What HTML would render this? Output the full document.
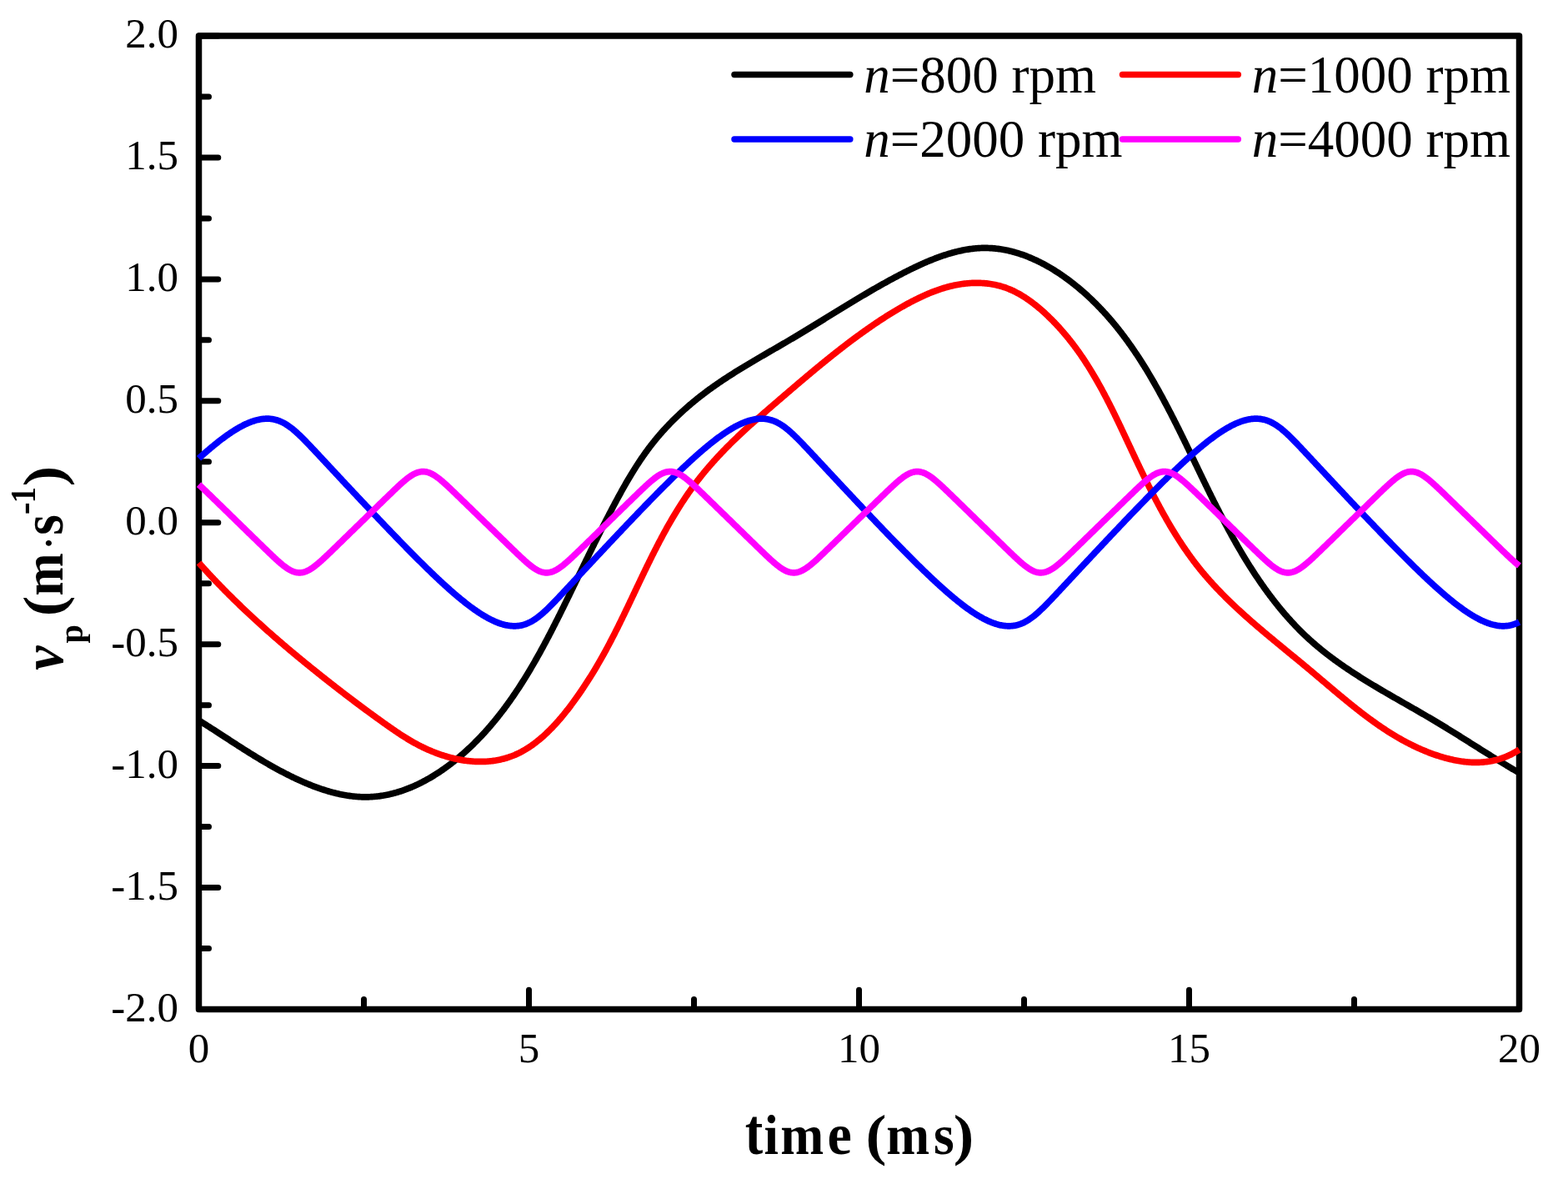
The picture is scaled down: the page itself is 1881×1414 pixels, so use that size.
<!DOCTYPE html>
<html><head><meta charset="utf-8"><title>v_p vs time</title><style>
html,body{margin:0;padding:0;background:#fff;overflow:hidden;}
svg{display:block;}
text{font-family:"Liberation Serif","Times New Roman",serif;fill:#000;}
</style></head><body>
<svg width="1881" height="1414" viewBox="0 0 1881 1414">
<rect width="1881" height="1414" fill="#fff"/>
<g font-size="51">
<text x="214" y="57.2" text-anchor="end">2.0</text>
<text x="214" y="203.1" text-anchor="end">1.5</text>
<text x="214" y="349.1" text-anchor="end">1.0</text>
<text x="214" y="495.0" text-anchor="end">0.5</text>
<text x="214" y="641.0" text-anchor="end">0.0</text>
<text x="214" y="786.9" text-anchor="end">-0.5</text>
<text x="214" y="932.8" text-anchor="end">-1.0</text>
<text x="214" y="1078.8" text-anchor="end">-1.5</text>
<text x="214" y="1224.7" text-anchor="end">-2.0</text>
<text x="238.5" y="1274.4" text-anchor="middle">0</text>
<text x="634.5" y="1274.4" text-anchor="middle">5</text>
<text x="1030.5" y="1274.4" text-anchor="middle">10</text>
<text x="1426.5" y="1274.4" text-anchor="middle">15</text>
<text x="1822.5" y="1274.4" text-anchor="middle">20</text>
</g>
<path d="M238.5,43.00H261.80M238.5,188.94H261.80M238.5,334.88H261.80M238.5,480.81H261.80M238.5,626.75H261.80M238.5,772.69H261.80M238.5,918.62H261.80M238.5,1064.56H261.80M238.5,1210.50H261.80M238.5,115.97H250.50M238.5,261.91H250.50M238.5,407.84H250.50M238.5,553.78H250.50M238.5,699.72H250.50M238.5,845.66H250.50M238.5,991.59H250.50M238.5,1137.53H250.50M238.50,1210.5V1187.20M634.50,1210.5V1187.20M1030.50,1210.5V1187.20M1426.50,1210.5V1187.20M1822.50,1210.5V1187.20M436.50,1210.5V1198.50M832.50,1210.5V1198.50M1228.50,1210.5V1198.50M1624.50,1210.5V1198.50" stroke="#000" stroke-width="7.0" stroke-linecap="round" fill="none"/>
<rect x="238.5" y="43.0" width="1584.0" height="1167.5" fill="none" stroke="#000" stroke-width="7.5" stroke-linejoin="round"/>
<g fill="none" stroke-width="7.7" stroke-linejoin="round" stroke-linecap="butt">
<path d="M238.50,863.93 L244.17,867.51 L245.23,868.17 L246.29,868.83 L247.35,869.50 L248.43,870.18 L249.50,870.87 L250.59,871.56 L251.68,872.25 L252.77,872.95 L253.87,873.66 L254.98,874.37 L256.09,875.08 L257.21,875.81 L258.33,876.53 L259.46,877.26 L260.59,877.99 L261.73,878.73 L262.87,879.48 L264.02,880.22 L265.17,880.97 L266.33,881.73 L267.50,882.48 L268.66,883.24 L269.84,884.01 L271.02,884.78 L272.20,885.55 L273.39,886.32 L274.58,887.09 L275.78,887.87 L276.98,888.65 L278.18,889.43 L279.39,890.22 L280.61,891.00 L281.83,891.79 L283.05,892.58 L284.28,893.37 L285.51,894.17 L286.75,894.96 L287.99,895.75 L289.23,896.55 L290.48,897.34 L291.73,898.14 L292.99,898.94 L294.25,899.74 L295.52,900.53 L296.78,901.33 L298.06,902.13 L299.33,902.93 L300.61,903.72 L301.89,904.52 L303.18,905.31 L304.47,906.11 L305.76,906.90 L307.06,907.69 L308.36,908.48 L309.66,909.27 L310.97,910.06 L312.28,910.85 L313.59,911.63 L314.91,912.41 L316.23,913.19 L317.55,913.97 L318.87,914.74 L320.20,915.51 L321.53,916.28 L322.86,917.05 L324.20,917.81 L325.54,918.57 L326.88,919.33 L328.22,920.08 L329.57,920.83 L330.92,921.58 L332.27,922.32 L333.62,923.06 L334.98,923.79 L336.34,924.52 L337.70,925.24 L339.06,925.96 L340.42,926.68 L341.79,927.39 L343.16,928.09 L344.53,928.79 L345.90,929.48 L347.28,930.17 L348.65,930.85 L350.03,931.53 L351.41,932.20 L352.79,932.86 L354.18,933.52 L355.56,934.17 L356.95,934.82 L358.34,935.46 L359.72,936.09 L361.12,936.71 L362.51,937.33 L363.90,937.94 L365.29,938.54 L366.69,939.13 L368.09,939.72 L369.48,940.30 L370.88,940.87 L372.28,941.43 L373.68,941.99 L375.09,942.53 L376.49,943.07 L377.89,943.60 L379.30,944.12 L380.70,944.63 L382.10,945.13 L383.51,945.62 L384.92,946.10 L386.32,946.57 L387.73,947.03 L389.14,947.49 L390.55,947.93 L391.95,948.36 L393.36,948.78 L394.77,949.19 L396.18,949.59 L397.59,949.98 L399.00,950.36 L400.41,950.73 L401.82,951.08 L403.22,951.43 L404.63,951.76 L406.04,952.08 L407.45,952.39 L408.86,952.69 L410.26,952.97 L411.67,953.24 L413.08,953.50 L414.48,953.75 L415.89,953.98 L417.29,954.21 L418.69,954.41 L420.10,954.61 L421.50,954.79 L422.90,954.96 L424.30,955.11 L425.70,955.26 L427.10,955.38 L428.50,955.50 L429.89,955.59 L431.29,955.68 L432.68,955.75 L434.08,955.80 L435.47,955.84 L436.86,955.87 L438.25,955.88 L439.64,955.87 L441.02,955.85 L442.41,955.82 L443.79,955.77 L445.17,955.70 L446.55,955.62 L447.93,955.52 L449.31,955.41 L450.68,955.28 L452.05,955.14 L453.42,954.99 L454.79,954.82 L456.16,954.63 L457.53,954.43 L458.89,954.22 L460.25,953.99 L461.61,953.75 L462.97,953.50 L464.32,953.23 L465.68,952.95 L467.03,952.65 L468.38,952.34 L469.72,952.02 L471.07,951.68 L472.41,951.34 L473.75,950.97 L475.08,950.60 L476.42,950.21 L477.75,949.81 L479.08,949.40 L480.41,948.98 L481.73,948.54 L483.05,948.09 L484.37,947.63 L485.69,947.16 L487.00,946.68 L488.31,946.18 L489.62,945.68 L490.93,945.16 L492.23,944.63 L493.53,944.09 L494.83,943.53 L496.12,942.97 L497.41,942.40 L498.70,941.81 L499.98,941.22 L501.26,940.61 L502.54,940.00 L503.82,939.37 L505.09,938.73 L506.35,938.09 L507.62,937.43 L508.88,936.76 L510.14,936.09 L511.39,935.40 L512.65,934.71 L513.89,934.00 L515.14,933.29 L516.38,932.57 L517.62,931.83 L518.85,931.09 L520.08,930.34 L521.31,929.58 L522.53,928.82 L523.75,928.04 L524.96,927.26 L526.17,926.47 L527.38,925.67 L528.58,924.86 L529.78,924.04 L530.98,923.22 L532.17,922.39 L533.35,921.55 L534.54,920.70 L535.72,919.85 L536.89,918.99 L538.06,918.12 L539.23,917.24 L540.39,916.36 L541.55,915.47 L542.70,914.58 L543.85,913.67 L544.99,912.76 L546.13,911.85 L547.27,910.93 L548.40,910.00 L549.52,909.07 L550.64,908.13 L551.76,907.18 L552.87,906.23 L553.98,905.28 L555.08,904.32 L556.18,903.35 L557.27,902.38 L558.36,901.40 L559.44,900.42 L560.52,899.43 L561.59,898.44 L562.66,897.45 L563.72,896.45 L564.78,895.44 L565.84,894.43 L566.88,893.42 L567.93,892.40 L568.96,891.38 L570.00,890.35 L571.02,889.32 L572.05,888.29 L573.07,887.25 L574.08,886.20 L575.09,885.16 L576.09,884.11 L577.09,883.05 L578.09,881.99 L579.08,880.93 L580.06,879.86 L581.05,878.79 L582.02,877.71 L582.99,876.63 L583.96,875.55 L584.92,874.46 L585.88,873.37 L586.84,872.28 L587.79,871.18 L588.73,870.07 L589.67,868.97 L590.61,867.86 L591.54,866.75 L592.47,865.63 L593.40,864.51 L594.32,863.39 L595.23,862.26 L596.15,861.13 L597.05,860.00 L597.96,858.86 L598.86,857.72 L599.75,856.57 L600.65,855.43 L601.53,854.28 L602.42,853.12 L603.30,851.96 L604.18,850.80 L605.05,849.64 L605.92,848.48 L606.78,847.31 L607.64,846.13 L608.50,844.96 L609.36,843.78 L610.21,842.60 L611.06,841.41 L611.90,840.23 L612.74,839.04 L613.58,837.84 L614.41,836.65 L615.24,835.45 L616.06,834.25 L616.89,833.05 L617.71,831.84 L618.52,830.63 L619.34,829.42 L620.15,828.21 L620.95,826.99 L621.76,825.77 L622.56,824.55 L623.35,823.32 L624.15,822.10 L624.94,820.87 L625.73,819.64 L626.51,818.40 L627.29,817.17 L628.07,815.93 L628.85,814.69 L629.62,813.45 L630.39,812.20 L631.16,810.96 L631.93,809.71 L632.69,808.46 L633.45,807.20 L634.20,805.95 L634.96,804.69 L635.71,803.43 L636.46,802.17 L637.20,800.91 L637.95,799.65 L638.69,798.38 L639.43,797.11 L640.16,795.84 L640.90,794.57 L641.63,793.30 L642.36,792.02 L643.08,790.75 L643.81,789.47 L644.53,788.19 L645.25,786.91 L645.97,785.63 L646.68,784.34 L647.40,783.06 L648.11,781.77 L648.82,780.48 L649.52,779.19 L650.23,777.90 L650.93,776.61 L651.63,775.32 L652.33,774.02 L653.03,772.72 L653.72,771.43 L654.41,770.13 L655.11,768.83 L655.80,767.53 L656.48,766.23 L657.17,764.93 L657.85,763.62 L658.54,762.32 L659.22,761.02 L659.90,759.71 L660.57,758.40 L661.25,757.10 L661.93,755.79 L662.60,754.48 L663.27,753.17 L663.94,751.86 L664.61,750.55 L665.28,749.24 L665.94,747.92 L666.61,746.61 L667.27,745.30 L667.94,743.98 L668.60,742.67 L669.26,741.35 L669.92,740.04 L670.57,738.72 L671.23,737.41 L671.88,736.09 L672.54,734.78 L673.19,733.46 L673.85,732.14 L674.50,730.83 L675.15,729.51 L675.80,728.19 L676.45,726.87 L677.09,725.56 L677.74,724.24 L678.39,722.92 L679.03,721.60 L679.68,720.29 L680.32,718.97 L680.97,717.65 L681.61,716.34 L682.25,715.02 L682.89,713.70 L683.53,712.39 L684.18,711.07 L684.82,709.76 L685.46,708.44 L686.09,707.13 L686.73,705.81 L687.37,704.50 L688.01,703.18 L688.65,701.87 L689.29,700.56 L689.92,699.24 L690.56,697.93 L691.20,696.62 L691.84,695.31 L692.47,693.99 L693.11,692.68 L693.74,691.37 L694.38,690.06 L695.02,688.75 L695.65,687.44 L696.29,686.13 L696.93,684.82 L697.56,683.51 L698.20,682.20 L698.83,680.89 L699.47,679.58 L700.11,678.28 L700.74,676.97 L701.38,675.66 L702.02,674.35 L702.66,673.05 L703.29,671.74 L703.93,670.43 L704.57,669.13 L705.21,667.82 L705.85,666.51 L706.49,665.21 L707.12,663.90 L707.76,662.60 L708.41,661.29 L709.05,659.99 L709.69,658.69 L710.33,657.38 L710.97,656.08 L711.62,654.78 L712.26,653.47 L712.90,652.17 L713.55,650.87 L714.19,649.57 L714.84,648.27 L715.49,646.96 L716.14,645.66 L716.79,644.36 L717.43,643.06 L718.09,641.76 L718.74,640.46 L719.39,639.16 L720.04,637.86 L720.70,636.56 L721.35,635.26 L722.01,633.97 L722.66,632.67 L723.32,631.37 L723.98,630.07 L724.64,628.77 L725.30,627.48 L725.96,626.18 L726.63,624.88 L727.29,623.59 L727.96,622.29 L728.63,620.99 L729.29,619.70 L729.96,618.40 L730.64,617.11 L731.31,615.81 L731.98,614.52 L732.66,613.22 L733.33,611.93 L734.01,610.63 L734.69,609.34 L735.37,608.05 L736.05,606.75 L736.74,605.46 L737.42,604.17 L738.11,602.88 L738.80,601.59 L739.49,600.29 L740.19,599.00 L740.88,597.72 L741.58,596.43 L742.28,595.14 L742.98,593.85 L743.68,592.57 L744.39,591.28 L745.10,590.00 L745.81,588.72 L746.52,587.44 L747.24,586.16 L747.96,584.88 L748.68,583.60 L749.40,582.33 L750.13,581.05 L750.86,579.78 L751.59,578.51 L752.33,577.25 L753.07,575.98 L753.81,574.72 L754.56,573.46 L755.31,572.20 L756.06,570.94 L756.81,569.68 L757.57,568.43 L758.34,567.18 L759.10,565.93 L759.87,564.69 L760.65,563.45 L761.43,562.21 L762.21,560.97 L763.00,559.74 L763.79,558.51 L764.58,557.28 L765.38,556.05 L766.18,554.83 L766.99,553.61 L767.80,552.40 L768.62,551.19 L769.44,549.98 L770.27,548.77 L771.10,547.57 L771.93,546.37 L772.77,545.18 L773.61,543.99 L774.46,542.80 L775.32,541.62 L776.18,540.44 L777.04,539.27 L777.91,538.10 L778.79,536.93 L779.67,535.77 L780.56,534.61 L781.45,533.46 L782.35,532.31 L783.25,531.17 L784.16,530.03 L785.07,528.90 L785.99,527.77 L786.92,526.64 L787.85,525.52 L788.78,524.40 L789.72,523.29 L790.67,522.18 L791.62,521.08 L792.58,519.98 L793.54,518.88 L794.50,517.79 L795.48,516.71 L796.45,515.63 L797.44,514.55 L798.42,513.48 L799.41,512.41 L800.41,511.35 L801.41,510.29 L802.42,509.24 L803.43,508.19 L804.44,507.14 L805.46,506.10 L806.49,505.06 L807.52,504.03 L808.55,503.01 L809.59,501.98 L810.63,500.96 L811.68,499.95 L812.73,498.94 L813.79,497.93 L814.85,496.93 L815.92,495.94 L816.98,494.95 L818.06,493.96 L819.14,492.98 L820.22,492.00 L821.30,491.02 L822.39,490.05 L823.49,489.09 L824.58,488.13 L825.69,487.17 L826.79,486.22 L827.90,485.27 L829.01,484.33 L830.13,483.39 L831.25,482.45 L832.38,481.52 L833.50,480.60 L834.64,479.67 L835.77,478.76 L836.91,477.84 L838.05,476.93 L839.20,476.03 L840.35,475.13 L841.50,474.24 L842.66,473.34 L843.81,472.46 L844.98,471.58 L846.14,470.70 L847.31,469.82 L848.48,468.96 L849.66,468.09 L850.84,467.23 L852.02,466.37 L853.20,465.52 L854.39,464.67 L855.58,463.82 L856.77,462.98 L857.97,462.15 L859.17,461.31 L860.37,460.48 L861.57,459.65 L862.77,458.83 L863.98,458.01 L865.19,457.19 L866.41,456.38 L867.62,455.57 L868.84,454.76 L870.06,453.96 L871.28,453.16 L872.50,452.36 L873.73,451.57 L874.96,450.78 L876.19,449.99 L877.42,449.20 L878.65,448.42 L879.89,447.64 L881.12,446.86 L882.36,446.08 L883.60,445.31 L884.84,444.54 L886.09,443.77 L887.33,443.00 L888.58,442.23 L889.82,441.47 L891.07,440.71 L892.32,439.95 L893.57,439.20 L894.82,438.44 L896.08,437.69 L897.33,436.94 L898.59,436.19 L899.84,435.44 L901.10,434.69 L902.36,433.95 L903.61,433.20 L904.87,432.46 L906.13,431.72 L907.39,430.98 L908.65,430.24 L909.91,429.50 L911.18,428.76 L912.44,428.03 L913.70,427.29 L914.96,426.56 L916.23,425.82 L917.49,425.09 L918.75,424.36 L920.02,423.63 L921.28,422.90 L922.54,422.17 L923.80,421.44 L925.07,420.71 L926.33,419.98 L927.59,419.25 L928.86,418.52 L930.12,417.79 L931.38,417.06 L932.64,416.33 L933.90,415.60 L935.16,414.87 L936.42,414.14 L937.68,413.41 L938.93,412.68 L940.19,411.95 L941.45,411.21 L942.70,410.48 L943.96,409.75 L945.21,409.02 L946.46,408.28 L947.71,407.55 L948.96,406.81 L950.21,406.07 L951.46,405.33 L952.71,404.59 L953.95,403.85 L955.20,403.11 L956.44,402.37 L957.68,401.63 L958.92,400.88 L960.16,400.14 L961.40,399.39 L962.64,398.65 L963.87,397.90 L965.11,397.15 L966.34,396.40 L967.58,395.66 L968.81,394.91 L970.04,394.15 L971.28,393.40 L972.51,392.65 L973.74,391.90 L974.97,391.15 L976.20,390.39 L977.43,389.64 L978.66,388.89 L979.88,388.13 L981.11,387.38 L982.34,386.62 L983.57,385.87 L984.79,385.11 L986.02,384.36 L987.25,383.60 L988.47,382.85 L989.70,382.09 L990.93,381.33 L992.15,380.58 L993.38,379.82 L994.61,379.07 L995.83,378.31 L997.06,377.55 L998.28,376.80 L999.51,376.04 L1000.74,375.28 L1001.97,374.53 L1003.19,373.77 L1004.42,373.02 L1005.65,372.26 L1006.88,371.51 L1008.11,370.75 L1009.34,370.00 L1010.57,369.25 L1011.80,368.49 L1013.03,367.74 L1014.26,366.99 L1015.49,366.24 L1016.73,365.48 L1017.96,364.73 L1019.20,363.98 L1020.43,363.23 L1021.67,362.48 L1022.91,361.74 L1024.14,360.99 L1025.38,360.24 L1026.62,359.49 L1027.87,358.75 L1029.11,358.00 L1030.35,357.26 L1031.60,356.52 L1032.84,355.78 L1034.09,355.03 L1035.34,354.29 L1036.59,353.56 L1037.84,352.82 L1039.09,352.08 L1040.35,351.34 L1041.60,350.61 L1042.86,349.88 L1044.12,349.14 L1045.38,348.41 L1046.64,347.68 L1047.90,346.95 L1049.17,346.23 L1050.43,345.50 L1051.70,344.77 L1052.97,344.05 L1054.25,343.33 L1055.52,342.61 L1056.80,341.89 L1058.07,341.17 L1059.35,340.46 L1060.64,339.74 L1061.92,339.03 L1063.21,338.32 L1064.49,337.61 L1065.78,336.90 L1067.08,336.19 L1068.37,335.49 L1069.67,334.78 L1070.97,334.08 L1072.27,333.38 L1073.58,332.69 L1074.88,331.99 L1076.19,331.30 L1077.50,330.61 L1078.82,329.92 L1080.14,329.23 L1081.46,328.54 L1082.78,327.86 L1084.10,327.18 L1085.43,326.50 L1086.76,325.83 L1088.09,325.15 L1089.43,324.49 L1090.76,323.82 L1092.10,323.16 L1093.44,322.50 L1094.78,321.85 L1096.13,321.20 L1097.48,320.56 L1098.83,319.92 L1100.18,319.28 L1101.53,318.65 L1102.89,318.03 L1104.24,317.41 L1105.60,316.79 L1106.96,316.18 L1108.33,315.58 L1109.69,314.99 L1111.05,314.40 L1112.42,313.82 L1113.79,313.24 L1115.16,312.67 L1116.53,312.11 L1117.91,311.56 L1119.28,311.01 L1120.66,310.47 L1122.03,309.94 L1123.41,309.42 L1124.79,308.90 L1126.17,308.40 L1127.56,307.90 L1128.94,307.41 L1130.32,306.93 L1131.71,306.46 L1133.09,306.00 L1134.48,305.55 L1135.87,305.11 L1137.26,304.68 L1138.65,304.26 L1140.04,303.85 L1141.43,303.45 L1142.82,303.06 L1144.21,302.69 L1145.61,302.32 L1147.00,301.97 L1148.39,301.62 L1149.79,301.29 L1151.18,300.98 L1152.58,300.67 L1153.97,300.37 L1155.37,300.09 L1156.77,299.82 L1158.16,299.57 L1159.56,299.33 L1160.96,299.10 L1162.35,298.88 L1163.75,298.68 L1165.15,298.49 L1166.54,298.32 L1167.94,298.16 L1169.33,298.01 L1170.73,297.88 L1172.13,297.77 L1173.52,297.67 L1174.92,297.58 L1176.31,297.52 L1177.71,297.46 L1179.10,297.43 L1180.50,297.40 L1181.89,297.40 L1183.28,297.41 L1184.67,297.44 L1186.07,297.48 L1187.46,297.54 L1188.85,297.62 L1190.23,297.71 L1191.62,297.82 L1193.01,297.94 L1194.40,298.08 L1195.78,298.23 L1197.17,298.40 L1198.55,298.59 L1199.93,298.79 L1201.31,299.00 L1202.69,299.23 L1204.07,299.47 L1205.45,299.73 L1206.82,300.00 L1208.19,300.29 L1209.57,300.59 L1210.94,300.91 L1212.31,301.23 L1213.67,301.58 L1215.04,301.93 L1216.40,302.30 L1217.77,302.69 L1219.13,303.08 L1220.48,303.49 L1221.84,303.91 L1223.19,304.35 L1224.54,304.80 L1225.89,305.26 L1227.24,305.73 L1228.59,306.22 L1229.93,306.71 L1231.27,307.22 L1232.61,307.75 L1233.94,308.28 L1235.28,308.83 L1236.61,309.38 L1237.94,309.95 L1239.26,310.53 L1240.58,311.13 L1241.90,311.73 L1243.22,312.34 L1244.53,312.97 L1245.85,313.61 L1247.15,314.25 L1248.46,314.91 L1249.76,315.58 L1251.06,316.25 L1252.35,316.94 L1253.65,317.64 L1254.94,318.35 L1256.22,319.07 L1257.50,319.80 L1258.78,320.53 L1260.06,321.28 L1261.33,322.04 L1262.60,322.80 L1263.86,323.58 L1265.12,324.36 L1266.38,325.15 L1267.63,325.95 L1268.88,326.76 L1270.13,327.58 L1271.37,328.41 L1272.61,329.24 L1273.84,330.09 L1275.07,330.94 L1276.30,331.80 L1277.52,332.66 L1278.73,333.54 L1279.95,334.42 L1281.15,335.31 L1282.36,336.21 L1283.56,337.11 L1284.75,338.02 L1285.94,338.94 L1287.13,339.86 L1288.31,340.79 L1289.48,341.73 L1290.66,342.68 L1291.82,343.63 L1292.98,344.58 L1294.14,345.54 L1295.29,346.51 L1296.44,347.49 L1297.58,348.47 L1298.71,349.45 L1299.85,350.44 L1300.97,351.44 L1302.09,352.44 L1303.21,353.45 L1304.32,354.46 L1305.42,355.48 L1306.52,356.50 L1307.61,357.52 L1308.70,358.55 L1309.78,359.59 L1310.86,360.63 L1311.93,361.67 L1312.99,362.72 L1314.05,363.77 L1315.11,364.82 L1316.16,365.88 L1317.20,366.95 L1318.24,368.01 L1319.27,369.08 L1320.30,370.16 L1321.32,371.24 L1322.33,372.32 L1323.34,373.41 L1324.35,374.50 L1325.35,375.60 L1326.35,376.69 L1327.34,377.80 L1328.32,378.90 L1329.30,380.01 L1330.28,381.13 L1331.25,382.24 L1332.22,383.36 L1333.18,384.49 L1334.13,385.61 L1335.08,386.74 L1336.03,387.88 L1336.97,389.02 L1337.91,390.16 L1338.84,391.30 L1339.77,392.45 L1340.69,393.60 L1341.61,394.75 L1342.53,395.91 L1343.44,397.07 L1344.34,398.23 L1345.24,399.40 L1346.14,400.57 L1347.03,401.74 L1347.92,402.91 L1348.80,404.09 L1349.68,405.27 L1350.56,406.45 L1351.43,407.64 L1352.30,408.83 L1353.16,410.02 L1354.02,411.22 L1354.87,412.41 L1355.72,413.61 L1356.57,414.82 L1357.41,416.02 L1358.25,417.23 L1359.09,418.44 L1359.92,419.65 L1360.75,420.86 L1361.57,422.08 L1362.39,423.30 L1363.21,424.52 L1364.02,425.75 L1364.83,426.97 L1365.64,428.20 L1366.44,429.43 L1367.24,430.66 L1368.04,431.90 L1368.83,433.14 L1369.62,434.38 L1370.41,435.62 L1371.19,436.86 L1371.97,438.10 L1372.74,439.35 L1373.52,440.60 L1374.29,441.85 L1375.05,443.10 L1375.82,444.35 L1376.58,445.61 L1377.34,446.87 L1378.09,448.13 L1378.84,449.39 L1379.59,450.65 L1380.34,451.91 L1381.08,453.18 L1381.82,454.44 L1382.56,455.71 L1383.29,456.98 L1384.03,458.25 L1384.76,459.52 L1385.48,460.80 L1386.21,462.07 L1386.93,463.35 L1387.65,464.62 L1388.37,465.90 L1389.08,467.18 L1389.79,468.46 L1390.50,469.74 L1391.21,471.02 L1391.92,472.31 L1392.62,473.59 L1393.32,474.87 L1394.02,476.16 L1394.72,477.45 L1395.41,478.74 L1396.10,480.02 L1396.80,481.31 L1397.48,482.60 L1398.17,483.89 L1398.86,485.19 L1399.54,486.48 L1400.22,487.77 L1400.90,489.07 L1401.58,490.36 L1402.25,491.66 L1402.93,492.95 L1403.60,494.25 L1404.27,495.55 L1404.94,496.85 L1405.61,498.15 L1406.27,499.45 L1406.94,500.75 L1407.60,502.05 L1408.26,503.35 L1408.92,504.65 L1409.58,505.96 L1410.24,507.26 L1410.89,508.56 L1411.55,509.87 L1412.20,511.17 L1412.85,512.48 L1413.51,513.79 L1414.16,515.09 L1414.80,516.40 L1415.45,517.71 L1416.10,519.01 L1416.75,520.32 L1417.39,521.63 L1418.03,522.94 L1418.68,524.25 L1419.32,525.56 L1419.96,526.87 L1420.60,528.18 L1421.24,529.49 L1421.88,530.80 L1422.52,532.11 L1423.16,533.43 L1423.80,534.74 L1424.43,536.05 L1425.07,537.36 L1425.71,538.68 L1426.34,539.99 L1426.98,541.30 L1427.61,542.61 L1428.25,543.93 L1428.88,545.24 L1429.51,546.56 L1430.15,547.87 L1430.78,549.18 L1431.41,550.50 L1432.05,551.81 L1432.68,553.12 L1433.31,554.44 L1433.94,555.75 L1434.58,557.07 L1435.21,558.38 L1435.84,559.69 L1436.47,561.01 L1437.11,562.32 L1437.74,563.64 L1438.37,564.95 L1439.01,566.26 L1439.64,567.58 L1440.27,568.89 L1440.91,570.20 L1441.54,571.52 L1442.18,572.83 L1442.81,574.14 L1443.45,575.46 L1444.09,576.77 L1444.72,578.08 L1445.36,579.39 L1446.00,580.70 L1446.64,582.01 L1447.28,583.33 L1447.92,584.64 L1448.56,585.95 L1449.20,587.26 L1449.84,588.57 L1450.49,589.88 L1451.13,591.19 L1451.78,592.49 L1452.42,593.80 L1453.07,595.11 L1453.72,596.42 L1454.37,597.72 L1455.02,599.03 L1455.67,600.34 L1456.32,601.64 L1456.98,602.95 L1457.63,604.25 L1458.29,605.55 L1458.95,606.86 L1459.61,608.16 L1460.27,609.46 L1460.93,610.76 L1461.59,612.06 L1462.26,613.37 L1462.92,614.66 L1463.59,615.96 L1464.26,617.26 L1464.93,618.56 L1465.60,619.86 L1466.28,621.15 L1466.96,622.45 L1467.63,623.74 L1468.31,625.04 L1468.99,626.33 L1469.68,627.62 L1470.36,628.91 L1471.05,630.20 L1471.74,631.49 L1472.43,632.78 L1473.12,634.07 L1473.82,635.36 L1474.52,636.64 L1475.22,637.93 L1475.92,639.21 L1476.62,640.50 L1477.33,641.78 L1478.04,643.06 L1478.75,644.34 L1479.46,645.62 L1480.17,646.90 L1480.89,648.18 L1481.61,649.46 L1482.33,650.73 L1483.06,652.01 L1483.79,653.28 L1484.52,654.55 L1485.25,655.82 L1485.99,657.09 L1486.72,658.36 L1487.47,659.63 L1488.21,660.89 L1488.95,662.16 L1489.70,663.42 L1490.45,664.68 L1491.21,665.94 L1491.97,667.20 L1492.72,668.46 L1493.49,669.71 L1494.25,670.97 L1495.02,672.22 L1495.79,673.47 L1496.56,674.72 L1497.34,675.96 L1498.12,677.21 L1498.90,678.45 L1499.68,679.69 L1500.47,680.93 L1501.26,682.17 L1502.06,683.40 L1502.85,684.63 L1503.65,685.86 L1504.45,687.09 L1505.26,688.32 L1506.07,689.54 L1506.88,690.76 L1507.69,691.98 L1508.51,693.20 L1509.33,694.41 L1510.15,695.62 L1510.98,696.83 L1511.81,698.04 L1512.64,699.24 L1513.47,700.44 L1514.31,701.64 L1515.16,702.83 L1516.00,704.03 L1516.85,705.22 L1517.70,706.40 L1518.55,707.59 L1519.41,708.77 L1520.27,709.95 L1521.14,711.12 L1522.01,712.30 L1522.88,713.46 L1523.75,714.63 L1524.63,715.79 L1525.51,716.95 L1526.39,718.11 L1527.28,719.26 L1528.17,720.41 L1529.07,721.56 L1529.97,722.70 L1530.87,723.84 L1531.77,724.98 L1532.68,726.11 L1533.59,727.24 L1534.51,728.36 L1535.43,729.48 L1536.35,730.60 L1537.27,731.71 L1538.20,732.82 L1539.14,733.93 L1540.07,735.03 L1541.01,736.13 L1541.96,737.23 L1542.90,738.32 L1543.86,739.40 L1544.81,740.48 L1545.77,741.56 L1546.73,742.64 L1547.70,743.71 L1548.67,744.77 L1549.64,745.83 L1550.62,746.89 L1551.60,747.94 L1552.58,748.99 L1553.57,750.03 L1554.56,751.07 L1555.56,752.11 L1556.56,753.14 L1557.56,754.16 L1558.57,755.19 L1559.58,756.20 L1560.60,757.21 L1561.62,758.22 L1562.64,759.22 L1563.67,760.22 L1564.70,761.21 L1565.73,762.20 L1566.77,763.18 L1567.82,764.16 L1568.86,765.13 L1569.92,766.10 L1570.97,767.06 L1572.03,768.02 L1573.09,768.97 L1574.16,769.91 L1575.23,770.86 L1576.31,771.79 L1577.39,772.73 L1578.47,773.65 L1579.56,774.58 L1580.65,775.50 L1581.74,776.41 L1582.84,777.32 L1583.94,778.22 L1585.04,779.12 L1586.15,780.02 L1587.26,780.91 L1588.38,781.80 L1589.50,782.68 L1590.62,783.56 L1591.74,784.44 L1592.87,785.31 L1594.00,786.18 L1595.14,787.04 L1596.28,787.90 L1597.42,788.75 L1598.56,789.61 L1599.71,790.45 L1600.86,791.30 L1602.01,792.14 L1603.17,792.98 L1604.32,793.81 L1605.49,794.64 L1606.65,795.47 L1607.82,796.29 L1608.99,797.11 L1610.16,797.93 L1611.33,798.74 L1612.51,799.55 L1613.69,800.36 L1614.87,801.16 L1616.06,801.97 L1617.25,802.76 L1618.44,803.56 L1619.63,804.35 L1620.82,805.14 L1622.02,805.93 L1623.22,806.72 L1624.42,807.50 L1625.62,808.28 L1626.83,809.06 L1628.04,809.83 L1629.24,810.60 L1630.46,811.37 L1631.67,812.14 L1632.89,812.91 L1634.10,813.67 L1635.32,814.43 L1636.54,815.19 L1637.76,815.95 L1638.99,816.70 L1640.22,817.46 L1641.44,818.21 L1642.67,818.96 L1643.90,819.70 L1645.13,820.45 L1646.37,821.20 L1647.60,821.94 L1648.84,822.68 L1650.08,823.42 L1651.32,824.16 L1652.56,824.90 L1653.80,825.63 L1655.04,826.37 L1656.29,827.10 L1657.53,827.83 L1658.78,828.56 L1660.03,829.29 L1661.27,830.02 L1662.52,830.75 L1663.77,831.48 L1665.03,832.20 L1666.28,832.93 L1667.53,833.65 L1668.78,834.38 L1670.04,835.10 L1671.29,835.82 L1672.55,836.55 L1673.80,837.27 L1675.06,837.99 L1676.32,838.71 L1677.58,839.43 L1678.83,840.15 L1680.09,840.87 L1681.35,841.59 L1682.61,842.31 L1683.87,843.03 L1685.13,843.75 L1686.39,844.47 L1687.65,845.19 L1688.91,845.91 L1690.17,846.63 L1691.43,847.35 L1692.69,848.08 L1693.95,848.80 L1695.21,849.52 L1696.47,850.24 L1697.73,850.96 L1698.99,851.69 L1700.25,852.41 L1701.51,853.14 L1702.77,853.86 L1704.03,854.59 L1705.29,855.32 L1706.55,856.04 L1707.81,856.77 L1709.06,857.50 L1710.32,858.24 L1711.58,858.97 L1712.83,859.70 L1714.09,860.44 L1715.34,861.17 L1716.59,861.91 L1717.85,862.65 L1719.10,863.39 L1720.35,864.13 L1721.60,864.87 L1722.85,865.62 L1724.09,866.37 L1725.34,867.11 L1726.59,867.86 L1727.83,868.61 L1729.08,869.37 L1730.32,870.12 L1731.56,870.88 L1732.80,871.63 L1734.05,872.39 L1735.29,873.15 L1736.53,873.91 L1737.76,874.68 L1739.00,875.44 L1740.24,876.20 L1741.48,876.97 L1742.71,877.74 L1743.95,878.50 L1745.19,879.27 L1746.42,880.04 L1747.66,880.81 L1748.89,881.58 L1750.12,882.35 L1751.36,883.13 L1752.59,883.90 L1753.82,884.67 L1755.06,885.45 L1756.29,886.22 L1757.52,887.00 L1758.75,887.77 L1759.99,888.55 L1761.22,889.32 L1762.45,890.10 L1763.68,890.88 L1764.92,891.65 L1766.15,892.43 L1767.38,893.21 L1768.61,893.98 L1769.84,894.76 L1771.08,895.54 L1772.31,896.31 L1773.54,897.09 L1774.78,897.86 L1776.01,898.64 L1777.25,899.42 L1778.48,900.19 L1779.72,900.97 L1780.95,901.74 L1782.19,902.51 L1783.42,903.29 L1784.66,904.06 L1785.90,904.83 L1787.14,905.60 L1788.37,906.38 L1789.61,907.15 L1790.85,907.91 L1792.09,908.68 L1793.34,909.45 L1794.58,910.22 L1795.82,910.98 L1797.07,911.75 L1798.31,912.51 L1799.56,913.27 L1800.80,914.03 L1802.05,914.79 L1803.30,915.55 L1804.55,916.31 L1805.80,917.06 L1807.05,917.82 L1808.31,918.57 L1809.56,919.32 L1810.82,920.07 L1812.07,920.82 L1813.33,921.57 L1814.59,922.31 L1815.85,923.05 L1817.11,923.80 L1818.38,924.53 L1822.50,926.97" stroke="#000"/>
<path d="M238.50,674.94 L239.49,676.06 L240.49,677.18 L241.50,678.30 L242.51,679.42 L243.52,680.54 L244.53,681.65 L245.54,682.76 L246.56,683.87 L247.57,684.97 L248.59,686.08 L249.61,687.18 L250.63,688.28 L251.65,689.37 L252.67,690.47 L253.70,691.56 L254.72,692.65 L255.75,693.73 L256.77,694.82 L257.80,695.90 L258.83,696.98 L259.87,698.06 L260.90,699.14 L261.93,700.21 L262.97,701.28 L264.00,702.35 L265.04,703.42 L266.08,704.49 L267.12,705.55 L268.16,706.61 L269.21,707.67 L270.25,708.73 L271.30,709.78 L272.34,710.84 L273.39,711.89 L274.44,712.94 L275.49,713.98 L276.54,715.03 L277.60,716.07 L278.65,717.11 L279.70,718.15 L280.76,719.19 L281.82,720.22 L282.88,721.26 L283.94,722.29 L285.00,723.32 L286.06,724.34 L287.12,725.37 L288.19,726.39 L289.25,727.42 L290.32,728.44 L291.39,729.45 L292.46,730.47 L293.53,731.48 L294.60,732.50 L295.67,733.51 L296.74,734.52 L297.82,735.53 L298.90,736.53 L299.97,737.54 L301.05,738.54 L302.13,739.54 L303.21,740.54 L304.29,741.53 L305.37,742.53 L306.45,743.52 L307.54,744.52 L308.62,745.51 L309.71,746.50 L310.80,747.48 L311.89,748.47 L312.97,749.45 L314.07,750.44 L315.16,751.42 L316.25,752.40 L317.34,753.38 L318.44,754.35 L319.53,755.33 L320.63,756.30 L321.72,757.27 L322.82,758.25 L323.92,759.21 L325.02,760.18 L326.12,761.15 L327.22,762.11 L328.33,763.08 L329.43,764.04 L330.54,765.00 L331.64,765.96 L332.75,766.92 L333.85,767.88 L334.96,768.83 L336.07,769.78 L337.18,770.74 L338.29,771.69 L339.40,772.64 L340.52,773.59 L341.63,774.54 L342.74,775.48 L343.86,776.43 L344.98,777.37 L346.09,778.32 L347.21,779.26 L348.33,780.20 L349.45,781.14 L350.57,782.08 L351.69,783.01 L352.81,783.95 L353.93,784.88 L355.06,785.82 L356.18,786.75 L357.31,787.68 L358.43,788.61 L359.56,789.54 L360.68,790.47 L361.81,791.40 L362.94,792.32 L364.07,793.25 L365.20,794.17 L366.33,795.10 L367.46,796.02 L368.59,796.94 L369.73,797.86 L370.86,798.78 L372.00,799.70 L373.13,800.62 L374.27,801.53 L375.40,802.45 L376.54,803.36 L377.68,804.28 L378.82,805.19 L379.95,806.10 L381.09,807.02 L382.23,807.93 L383.38,808.84 L384.52,809.75 L385.66,810.65 L386.80,811.56 L387.95,812.47 L389.09,813.38 L390.24,814.28 L391.38,815.19 L392.53,816.09 L393.67,816.99 L394.82,817.89 L395.97,818.79 L397.12,819.69 L398.27,820.59 L399.42,821.49 L400.57,822.39 L401.72,823.29 L402.88,824.18 L404.03,825.08 L405.18,825.97 L406.34,826.87 L407.50,827.76 L408.65,828.65 L409.81,829.54 L410.97,830.43 L412.13,831.32 L413.29,832.21 L414.45,833.10 L415.61,833.98 L416.77,834.87 L417.93,835.75 L419.10,836.64 L420.26,837.52 L421.42,838.40 L422.59,839.28 L423.76,840.17 L424.93,841.04 L426.09,841.92 L427.26,842.80 L428.43,843.68 L429.60,844.55 L430.78,845.43 L431.95,846.30 L433.12,847.18 L434.30,848.05 L435.47,848.92 L436.65,849.79 L437.82,850.66 L439.00,851.53 L440.18,852.40 L441.36,853.27 L442.54,854.13 L443.72,855.00 L444.91,855.86 L446.09,856.72 L447.27,857.59 L448.46,858.45 L449.64,859.31 L450.83,860.17 L452.02,861.03 L453.21,861.88 L454.40,862.74 L455.59,863.60 L456.78,864.45 L457.97,865.31 L459.17,866.16 L460.36,867.01 L461.56,867.86 L462.75,868.71 L463.95,869.56 L465.15,870.41 L466.35,871.25 L467.55,872.10 L468.76,872.94 L469.96,873.77 L471.17,874.61 L472.38,875.44 L473.59,876.27 L474.81,877.09 L476.02,877.91 L477.24,878.73 L478.47,879.54 L479.69,880.35 L480.92,881.15 L482.15,881.95 L483.39,882.74 L484.63,883.53 L485.87,884.31 L487.12,885.08 L488.37,885.85 L489.62,886.61 L490.88,887.37 L492.14,888.11 L493.41,888.85 L494.68,889.58 L495.96,890.31 L497.24,891.02 L498.53,891.73 L499.82,892.43 L501.11,893.12 L502.42,893.80 L503.72,894.47 L505.03,895.13 L506.35,895.78 L507.67,896.42 L509.00,897.06 L510.33,897.68 L511.67,898.29 L513.00,898.90 L514.35,899.49 L515.69,900.07 L517.05,900.64 L518.40,901.20 L519.76,901.75 L521.12,902.29 L522.49,902.82 L523.85,903.34 L525.23,903.84 L526.60,904.34 L527.98,904.82 L529.36,905.29 L530.74,905.75 L532.13,906.20 L533.51,906.63 L534.90,907.05 L536.29,907.46 L537.69,907.86 L539.08,908.25 L540.48,908.62 L541.88,908.98 L543.28,909.33 L544.68,909.66 L546.08,909.99 L547.49,910.29 L548.89,910.59 L550.30,910.87 L551.70,911.14 L553.11,911.39 L554.52,911.63 L555.92,911.86 L557.33,912.07 L558.74,912.27 L560.15,912.45 L561.56,912.62 L562.96,912.77 L564.37,912.91 L565.77,913.03 L567.18,913.14 L568.58,913.24 L569.99,913.32 L571.39,913.38 L572.79,913.43 L574.19,913.46 L575.59,913.47 L576.99,913.47 L578.38,913.46 L579.77,913.43 L581.17,913.38 L582.55,913.31 L583.94,913.23 L585.33,913.13 L586.71,913.02 L588.09,912.89 L589.46,912.74 L590.84,912.57 L592.21,912.39 L593.58,912.19 L594.94,911.97 L596.30,911.74 L597.66,911.48 L599.01,911.21 L600.36,910.92 L601.71,910.61 L603.05,910.29 L604.39,909.94 L605.73,909.58 L607.06,909.20 L608.38,908.80 L609.70,908.38 L611.02,907.94 L612.33,907.48 L613.63,907.00 L614.93,906.51 L616.23,905.99 L617.52,905.46 L618.80,904.90 L620.08,904.33 L621.36,903.73 L622.62,903.12 L623.89,902.48 L625.14,901.83 L626.39,901.16 L627.64,900.47 L628.88,899.76 L630.11,899.04 L631.34,898.29 L632.56,897.53 L633.78,896.76 L634.99,895.96 L636.19,895.15 L637.39,894.33 L638.58,893.49 L639.77,892.63 L640.95,891.76 L642.13,890.87 L643.30,889.97 L644.46,889.05 L645.62,888.12 L646.77,887.18 L647.92,886.22 L649.06,885.25 L650.20,884.27 L651.33,883.28 L652.45,882.27 L653.57,881.25 L654.68,880.22 L655.79,879.18 L656.89,878.12 L657.98,877.06 L659.07,875.99 L660.16,874.90 L661.23,873.81 L662.31,872.70 L663.37,871.59 L664.43,870.46 L665.49,869.33 L666.53,868.19 L667.58,867.04 L668.61,865.89 L669.64,864.73 L670.67,863.55 L671.69,862.38 L672.70,861.19 L673.71,860.00 L674.71,858.80 L675.71,857.60 L676.70,856.39 L677.68,855.18 L678.66,853.96 L679.63,852.73 L680.60,851.51 L681.56,850.27 L682.51,849.04 L683.46,847.80 L684.40,846.56 L685.34,845.31 L686.27,844.06 L687.19,842.81 L688.11,841.56 L689.03,840.30 L689.93,839.05 L690.83,837.79 L691.73,836.53 L692.62,835.27 L693.50,834.01 L694.38,832.75 L695.25,831.49 L696.11,830.23 L696.97,828.98 L697.83,827.72 L698.67,826.46 L699.52,825.21 L700.35,823.95 L701.18,822.70 L702.01,821.44 L702.83,820.19 L703.64,818.94 L704.45,817.68 L705.25,816.43 L706.05,815.18 L706.85,813.93 L707.64,812.68 L708.42,811.43 L709.20,810.18 L709.97,808.93 L710.74,807.67 L711.51,806.42 L712.27,805.17 L713.03,803.92 L713.78,802.67 L714.53,801.42 L715.27,800.17 L716.01,798.92 L716.74,797.66 L717.48,796.41 L718.20,795.16 L718.93,793.90 L719.65,792.65 L720.37,791.39 L721.08,790.14 L721.79,788.88 L722.50,787.63 L723.20,786.37 L723.90,785.11 L724.60,783.85 L725.29,782.59 L725.99,781.33 L726.68,780.06 L727.36,778.80 L728.04,777.53 L728.73,776.27 L729.40,775.00 L730.08,773.73 L730.75,772.46 L731.42,771.19 L732.09,769.92 L732.76,768.64 L733.43,767.37 L734.09,766.09 L734.75,764.81 L735.41,763.53 L736.07,762.24 L736.72,760.96 L737.38,759.67 L738.03,758.38 L738.68,757.09 L739.33,755.80 L739.98,754.51 L740.63,753.21 L741.27,751.92 L741.92,750.62 L742.56,749.32 L743.20,748.02 L743.84,746.72 L744.48,745.41 L745.12,744.11 L745.76,742.80 L746.40,741.49 L747.03,740.19 L747.67,738.88 L748.30,737.56 L748.94,736.25 L749.57,734.94 L750.20,733.62 L750.84,732.31 L751.47,730.99 L752.10,729.68 L752.73,728.36 L753.36,727.04 L753.99,725.72 L754.62,724.40 L755.25,723.08 L755.87,721.76 L756.50,720.43 L757.13,719.11 L757.76,717.79 L758.39,716.46 L759.01,715.14 L759.64,713.81 L760.27,712.48 L760.90,711.16 L761.53,709.83 L762.15,708.50 L762.78,707.18 L763.41,705.85 L764.04,704.52 L764.67,703.19 L765.30,701.87 L765.93,700.54 L766.56,699.21 L767.20,697.88 L767.83,696.55 L768.46,695.22 L769.09,693.89 L769.73,692.57 L770.36,691.24 L771.00,689.91 L771.64,688.58 L772.27,687.26 L772.91,685.93 L773.55,684.60 L774.19,683.27 L774.84,681.95 L775.48,680.62 L776.12,679.30 L776.77,677.97 L777.42,676.65 L778.06,675.32 L778.71,674.00 L779.36,672.68 L780.02,671.36 L780.67,670.04 L781.33,668.72 L781.98,667.40 L782.64,666.08 L783.30,664.76 L783.97,663.44 L784.63,662.13 L785.30,660.81 L785.96,659.50 L786.63,658.19 L787.30,656.88 L787.98,655.56 L788.65,654.26 L789.33,652.95 L790.01,651.64 L790.69,650.33 L791.38,649.03 L792.07,647.73 L792.76,646.43 L793.45,645.13 L794.14,643.83 L794.84,642.53 L795.54,641.23 L796.24,639.94 L796.94,638.65 L797.65,637.36 L798.36,636.07 L799.07,634.78 L799.79,633.49 L800.50,632.21 L801.22,630.93 L801.95,629.65 L802.67,628.37 L803.40,627.09 L804.14,625.82 L804.87,624.54 L805.61,623.27 L806.35,622.01 L807.10,620.74 L807.85,619.47 L808.60,618.21 L809.36,616.95 L810.12,615.70 L810.88,614.44 L811.64,613.19 L812.41,611.94 L813.19,610.69 L813.96,609.44 L814.74,608.20 L815.53,606.96 L816.32,605.72 L817.11,604.49 L817.90,603.25 L818.70,602.02 L819.51,600.80 L820.32,599.57 L821.13,598.35 L821.94,597.13 L822.76,595.91 L823.59,594.70 L824.42,593.49 L825.25,592.28 L826.09,591.08 L826.93,589.88 L827.77,588.68 L828.62,587.48 L829.48,586.29 L830.34,585.10 L831.20,583.92 L832.07,582.73 L832.95,581.55 L833.82,580.38 L834.71,579.21 L835.60,578.04 L836.49,576.87 L837.39,575.71 L838.29,574.55 L839.19,573.39 L840.11,572.24 L841.02,571.09 L841.94,569.95 L842.87,568.80 L843.80,567.67 L844.73,566.53 L845.67,565.40 L846.61,564.27 L847.56,563.14 L848.51,562.02 L849.46,560.90 L850.42,559.78 L851.38,558.67 L852.35,557.56 L853.32,556.45 L854.29,555.35 L855.27,554.25 L856.25,553.15 L857.24,552.06 L858.22,550.97 L859.22,549.88 L860.21,548.79 L861.21,547.71 L862.21,546.63 L863.22,545.56 L864.23,544.49 L865.24,543.42 L866.26,542.35 L867.28,541.29 L868.30,540.23 L869.33,539.17 L870.35,538.11 L871.38,537.06 L872.42,536.02 L873.46,534.97 L874.50,533.93 L875.54,532.89 L876.58,531.85 L877.63,530.82 L878.68,529.79 L879.74,528.76 L880.79,527.73 L881.85,526.71 L882.91,525.69 L883.97,524.68 L885.04,523.66 L886.11,522.65 L887.18,521.65 L888.25,520.64 L889.32,519.64 L890.40,518.64 L891.48,517.64 L892.56,516.65 L893.64,515.65 L894.72,514.67 L895.81,513.68 L896.89,512.69 L897.98,511.71 L899.07,510.73 L900.16,509.75 L901.25,508.77 L902.35,507.79 L903.44,506.82 L904.54,505.85 L905.63,504.88 L906.73,503.91 L907.83,502.94 L908.92,501.97 L910.02,501.00 L911.12,500.04 L912.22,499.07 L913.33,498.11 L914.43,497.15 L915.53,496.19 L916.63,495.23 L917.73,494.27 L918.84,493.31 L919.94,492.35 L921.05,491.39 L922.15,490.43 L923.26,489.48 L924.36,488.52 L925.47,487.57 L926.57,486.61 L927.68,485.66 L928.79,484.70 L929.89,483.75 L931.00,482.80 L932.11,481.84 L933.21,480.89 L934.32,479.94 L935.43,478.98 L936.54,478.03 L937.64,477.08 L938.75,476.13 L939.86,475.17 L940.97,474.22 L942.08,473.27 L943.19,472.32 L944.29,471.37 L945.40,470.42 L946.51,469.47 L947.62,468.52 L948.73,467.57 L949.84,466.62 L950.95,465.67 L952.07,464.72 L953.18,463.78 L954.29,462.83 L955.40,461.88 L956.51,460.93 L957.63,459.99 L958.74,459.04 L959.85,458.10 L960.97,457.15 L962.08,456.21 L963.20,455.27 L964.32,454.32 L965.43,453.38 L966.55,452.44 L967.67,451.50 L968.79,450.56 L969.91,449.62 L971.03,448.69 L972.15,447.75 L973.27,446.81 L974.39,445.88 L975.51,444.94 L976.63,444.01 L977.76,443.08 L978.88,442.15 L980.01,441.22 L981.13,440.29 L982.26,439.36 L983.39,438.43 L984.52,437.51 L985.65,436.58 L986.78,435.66 L987.91,434.74 L989.04,433.81 L990.17,432.90 L991.31,431.98 L992.44,431.06 L993.58,430.14 L994.72,429.23 L995.85,428.32 L996.99,427.41 L998.13,426.50 L999.27,425.59 L1000.42,424.68 L1001.56,423.78 L1002.70,422.87 L1003.85,421.97 L1005.00,421.07 L1006.14,420.17 L1007.29,419.28 L1008.44,418.38 L1009.59,417.49 L1010.75,416.60 L1011.90,415.71 L1013.06,414.82 L1014.21,413.93 L1015.37,413.05 L1016.53,412.17 L1017.69,411.29 L1018.85,410.41 L1020.01,409.53 L1021.18,408.66 L1022.34,407.79 L1023.51,406.92 L1024.68,406.05 L1025.85,405.19 L1027.02,404.32 L1028.19,403.46 L1029.37,402.60 L1030.55,401.75 L1031.72,400.89 L1032.90,400.04 L1034.08,399.19 L1035.26,398.34 L1036.45,397.50 L1037.63,396.66 L1038.82,395.82 L1040.01,394.98 L1041.20,394.14 L1042.39,393.31 L1043.59,392.48 L1044.78,391.65 L1045.98,390.83 L1047.18,390.01 L1048.38,389.19 L1049.58,388.37 L1050.79,387.56 L1051.99,386.75 L1053.20,385.94 L1054.41,385.13 L1055.62,384.33 L1056.84,383.53 L1058.05,382.74 L1059.27,381.94 L1060.49,381.15 L1061.71,380.37 L1062.94,379.58 L1064.17,378.80 L1065.40,378.03 L1066.63,377.25 L1067.86,376.48 L1069.10,375.72 L1070.34,374.95 L1071.59,374.19 L1072.83,373.44 L1074.08,372.69 L1075.34,371.94 L1076.59,371.20 L1077.85,370.46 L1079.11,369.72 L1080.38,368.99 L1081.65,368.26 L1082.92,367.54 L1084.20,366.82 L1085.48,366.11 L1086.76,365.40 L1088.05,364.70 L1089.34,364.00 L1090.64,363.30 L1091.93,362.61 L1093.24,361.92 L1094.54,361.24 L1095.85,360.57 L1097.17,359.90 L1098.49,359.24 L1099.81,358.58 L1101.14,357.93 L1102.47,357.28 L1103.81,356.65 L1105.15,356.01 L1106.49,355.39 L1107.84,354.77 L1109.19,354.17 L1110.55,353.57 L1111.91,352.97 L1113.28,352.39 L1114.65,351.82 L1116.02,351.25 L1117.40,350.69 L1118.78,350.15 L1120.16,349.61 L1121.55,349.09 L1122.94,348.57 L1124.34,348.07 L1125.74,347.58 L1127.14,347.10 L1128.55,346.63 L1129.96,346.17 L1131.37,345.73 L1132.79,345.29 L1134.21,344.88 L1135.63,344.47 L1137.06,344.08 L1138.49,343.70 L1139.92,343.34 L1141.36,342.99 L1142.79,342.66 L1144.24,342.34 L1145.68,342.03 L1147.13,341.75 L1148.58,341.47 L1150.03,341.21 L1151.48,340.97 L1152.93,340.75 L1154.39,340.54 L1155.85,340.34 L1157.30,340.17 L1158.76,340.00 L1160.22,339.86 L1161.68,339.73 L1163.14,339.62 L1164.60,339.53 L1166.06,339.45 L1167.52,339.39 L1168.98,339.35 L1170.43,339.33 L1171.89,339.32 L1173.35,339.34 L1174.80,339.37 L1176.25,339.42 L1177.70,339.48 L1179.15,339.57 L1180.60,339.68 L1182.04,339.80 L1183.48,339.94 L1184.92,340.11 L1186.35,340.29 L1187.78,340.49 L1189.21,340.71 L1190.64,340.96 L1192.06,341.22 L1193.48,341.50 L1194.89,341.80 L1196.30,342.13 L1197.70,342.47 L1199.10,342.83 L1200.49,343.22 L1201.88,343.63 L1203.26,344.06 L1204.64,344.51 L1206.01,344.98 L1207.38,345.47 L1208.73,345.99 L1210.09,346.52 L1211.43,347.08 L1212.78,347.66 L1214.11,348.26 L1215.44,348.87 L1216.76,349.51 L1218.08,350.16 L1219.38,350.83 L1220.69,351.53 L1221.98,352.23 L1223.27,352.96 L1224.56,353.70 L1225.83,354.46 L1227.10,355.23 L1228.37,356.02 L1229.63,356.83 L1230.88,357.64 L1232.12,358.48 L1233.36,359.32 L1234.59,360.19 L1235.81,361.06 L1237.03,361.94 L1238.24,362.84 L1239.44,363.75 L1240.64,364.68 L1241.83,365.61 L1243.01,366.55 L1244.19,367.51 L1245.36,368.47 L1246.52,369.44 L1247.67,370.42 L1248.82,371.41 L1249.96,372.41 L1251.09,373.42 L1252.22,374.43 L1253.34,375.45 L1254.45,376.48 L1255.55,377.52 L1256.65,378.56 L1257.74,379.60 L1258.82,380.65 L1259.90,381.71 L1260.96,382.76 L1262.02,383.83 L1263.08,384.90 L1264.12,385.97 L1265.16,387.04 L1266.19,388.12 L1267.22,389.21 L1268.23,390.30 L1269.24,391.39 L1270.25,392.48 L1271.24,393.58 L1272.23,394.69 L1273.22,395.80 L1274.19,396.91 L1275.16,398.02 L1276.12,399.14 L1277.08,400.27 L1278.03,401.39 L1278.98,402.53 L1279.91,403.66 L1280.85,404.80 L1281.77,405.94 L1282.69,407.09 L1283.61,408.23 L1284.51,409.39 L1285.42,410.54 L1286.31,411.70 L1287.20,412.87 L1288.09,414.03 L1288.97,415.20 L1289.84,416.37 L1290.71,417.55 L1291.57,418.73 L1292.43,419.91 L1293.28,421.10 L1294.13,422.29 L1294.97,423.48 L1295.80,424.68 L1296.64,425.88 L1297.46,427.08 L1298.28,428.28 L1299.10,429.49 L1299.91,430.70 L1300.72,431.91 L1301.52,433.13 L1302.32,434.35 L1303.11,435.57 L1303.90,436.80 L1304.68,438.02 L1305.46,439.25 L1306.24,440.49 L1307.01,441.72 L1307.78,442.96 L1308.54,444.20 L1309.30,445.45 L1310.05,446.69 L1310.80,447.94 L1311.55,449.19 L1312.29,450.45 L1313.03,451.70 L1313.77,452.96 L1314.50,454.22 L1315.23,455.48 L1315.96,456.75 L1316.68,458.02 L1317.40,459.29 L1318.11,460.56 L1318.82,461.83 L1319.53,463.11 L1320.24,464.39 L1320.94,465.67 L1321.64,466.95 L1322.33,468.23 L1323.03,469.52 L1323.72,470.81 L1324.41,472.10 L1325.09,473.39 L1325.77,474.68 L1326.45,475.98 L1327.13,477.28 L1327.81,478.58 L1328.48,479.88 L1329.15,481.18 L1329.82,482.49 L1330.48,483.79 L1331.15,485.10 L1331.81,486.41 L1332.47,487.72 L1333.12,489.03 L1333.78,490.34 L1334.43,491.66 L1335.09,492.97 L1335.74,494.29 L1336.39,495.61 L1337.03,496.93 L1337.68,498.25 L1338.32,499.58 L1338.97,500.90 L1339.61,502.22 L1340.25,503.55 L1340.89,504.88 L1341.52,506.21 L1342.16,507.54 L1342.80,508.87 L1343.43,510.20 L1344.07,511.53 L1344.70,512.86 L1345.33,514.20 L1345.96,515.53 L1346.59,516.87 L1347.22,518.20 L1347.85,519.54 L1348.48,520.88 L1349.11,522.22 L1349.74,523.56 L1350.37,524.90 L1351.00,526.24 L1351.63,527.58 L1352.26,528.92 L1352.88,530.26 L1353.51,531.61 L1354.14,532.95 L1354.77,534.29 L1355.40,535.64 L1356.02,536.98 L1356.65,538.33 L1357.28,539.67 L1357.91,541.02 L1358.54,542.36 L1359.18,543.71 L1359.81,545.05 L1360.44,546.40 L1361.07,547.74 L1361.71,549.09 L1362.34,550.43 L1362.98,551.78 L1363.62,553.13 L1364.25,554.47 L1364.89,555.82 L1365.53,557.16 L1366.17,558.51 L1366.82,559.85 L1367.46,561.20 L1368.10,562.54 L1368.75,563.88 L1369.40,565.23 L1370.04,566.57 L1370.69,567.91 L1371.34,569.25 L1372.00,570.59 L1372.65,571.93 L1373.30,573.27 L1373.96,574.61 L1374.62,575.95 L1375.28,577.29 L1375.94,578.63 L1376.60,579.96 L1377.27,581.30 L1377.93,582.63 L1378.60,583.96 L1379.27,585.29 L1379.94,586.63 L1380.61,587.96 L1381.29,589.28 L1381.97,590.61 L1382.64,591.94 L1383.33,593.26 L1384.01,594.59 L1384.69,595.91 L1385.38,597.23 L1386.07,598.55 L1386.76,599.87 L1387.45,601.18 L1388.15,602.50 L1388.84,603.81 L1389.54,605.12 L1390.25,606.43 L1390.95,607.74 L1391.66,609.05 L1392.37,610.35 L1393.08,611.65 L1393.79,612.96 L1394.51,614.25 L1395.23,615.55 L1395.95,616.85 L1396.67,618.14 L1397.40,619.43 L1398.13,620.72 L1398.86,622.01 L1399.59,623.29 L1400.33,624.57 L1401.07,625.85 L1401.82,627.13 L1402.56,628.41 L1403.31,629.68 L1404.06,630.95 L1404.82,632.22 L1405.57,633.49 L1406.33,634.75 L1407.10,636.01 L1407.87,637.27 L1408.64,638.52 L1409.41,639.77 L1410.18,641.02 L1410.96,642.27 L1411.75,643.52 L1412.53,644.76 L1413.32,646.00 L1414.12,647.23 L1414.91,648.46 L1415.71,649.69 L1416.51,650.92 L1417.32,652.14 L1418.13,653.36 L1418.94,654.58 L1419.76,655.79 L1420.58,657.00 L1421.41,658.21 L1422.24,659.42 L1423.07,660.62 L1423.90,661.81 L1424.74,663.01 L1425.59,664.20 L1426.43,665.38 L1427.28,666.57 L1428.14,667.75 L1429.00,668.92 L1429.86,670.09 L1430.73,671.26 L1431.60,672.43 L1432.47,673.59 L1433.35,674.75 L1434.24,675.90 L1435.13,677.05 L1436.02,678.19 L1436.91,679.33 L1437.81,680.47 L1438.72,681.60 L1439.63,682.73 L1440.54,683.86 L1441.46,684.98 L1442.38,686.09 L1443.31,687.21 L1444.24,688.32 L1445.17,689.42 L1446.11,690.52 L1447.05,691.62 L1448.00,692.71 L1448.95,693.80 L1449.91,694.89 L1450.86,695.97 L1451.83,697.05 L1452.79,698.13 L1453.76,699.20 L1454.73,700.27 L1455.71,701.34 L1456.69,702.40 L1457.67,703.46 L1458.66,704.51 L1459.65,705.57 L1460.65,706.62 L1461.65,707.66 L1462.65,708.71 L1463.65,709.75 L1464.66,710.78 L1465.67,711.82 L1466.68,712.85 L1467.70,713.88 L1468.72,714.90 L1469.75,715.93 L1470.77,716.95 L1471.80,717.96 L1472.84,718.98 L1473.87,719.99 L1474.91,721.00 L1475.95,722.01 L1477.00,723.01 L1478.04,724.01 L1479.09,725.01 L1480.14,726.01 L1481.20,727.01 L1482.26,728.00 L1483.32,728.99 L1484.38,729.98 L1485.44,730.96 L1486.51,731.95 L1487.58,732.93 L1488.65,733.91 L1489.73,734.89 L1490.81,735.87 L1491.88,736.84 L1492.97,737.81 L1494.05,738.78 L1495.14,739.75 L1496.22,740.72 L1497.31,741.69 L1498.40,742.65 L1499.50,743.61 L1500.59,744.57 L1501.69,745.53 L1502.79,746.49 L1503.89,747.45 L1504.99,748.40 L1506.10,749.35 L1507.21,750.31 L1508.31,751.26 L1509.42,752.21 L1510.53,753.16 L1511.65,754.11 L1512.76,755.05 L1513.88,756.00 L1514.99,756.94 L1516.11,757.89 L1517.23,758.83 L1518.35,759.77 L1519.47,760.71 L1520.60,761.65 L1521.72,762.59 L1522.85,763.53 L1523.97,764.47 L1525.10,765.41 L1526.23,766.34 L1527.36,767.28 L1528.49,768.22 L1529.62,769.15 L1530.75,770.09 L1531.88,771.02 L1533.02,771.96 L1534.15,772.89 L1535.29,773.82 L1536.42,774.76 L1537.56,775.69 L1538.70,776.63 L1539.83,777.56 L1540.97,778.49 L1542.11,779.43 L1543.25,780.36 L1544.39,781.29 L1545.53,782.23 L1546.66,783.16 L1547.80,784.10 L1548.94,785.03 L1550.08,785.97 L1551.22,786.90 L1552.36,787.84 L1553.50,788.77 L1554.64,789.71 L1555.78,790.65 L1556.92,791.59 L1558.06,792.52 L1559.20,793.46 L1560.34,794.40 L1561.48,795.34 L1562.62,796.28 L1563.76,797.23 L1564.90,798.17 L1566.03,799.11 L1567.17,800.06 L1568.31,801.00 L1569.44,801.95 L1570.58,802.90 L1571.72,803.85 L1572.85,804.80 L1573.98,805.75 L1575.12,806.70 L1576.25,807.66 L1577.38,808.61 L1578.51,809.57 L1579.64,810.52 L1580.78,811.48 L1581.91,812.43 L1583.04,813.39 L1584.17,814.35 L1585.30,815.31 L1586.43,816.26 L1587.56,817.22 L1588.69,818.18 L1589.82,819.14 L1590.95,820.09 L1592.08,821.05 L1593.21,822.01 L1594.34,822.96 L1595.47,823.92 L1596.60,824.88 L1597.73,825.83 L1598.86,826.79 L1599.99,827.74 L1601.13,828.69 L1602.26,829.64 L1603.39,830.59 L1604.53,831.54 L1605.66,832.49 L1606.80,833.44 L1607.93,834.38 L1609.07,835.33 L1610.21,836.27 L1611.34,837.21 L1612.48,838.15 L1613.62,839.09 L1614.76,840.03 L1615.91,840.96 L1617.05,841.89 L1618.19,842.82 L1619.34,843.75 L1620.48,844.68 L1621.63,845.60 L1622.78,846.52 L1623.93,847.44 L1625.08,848.36 L1626.23,849.27 L1627.39,850.18 L1628.54,851.09 L1629.70,851.99 L1630.86,852.89 L1632.02,853.79 L1633.18,854.69 L1634.34,855.58 L1635.51,856.47 L1636.67,857.36 L1637.84,858.24 L1639.01,859.12 L1640.19,860.00 L1641.36,860.87 L1642.54,861.74 L1643.71,862.60 L1644.89,863.47 L1646.08,864.32 L1647.26,865.18 L1648.45,866.02 L1649.64,866.87 L1650.83,867.71 L1652.02,868.55 L1653.21,869.38 L1654.41,870.20 L1655.61,871.03 L1656.82,871.84 L1658.02,872.66 L1659.23,873.47 L1660.44,874.27 L1661.65,875.07 L1662.87,875.86 L1664.09,876.65 L1665.31,877.43 L1666.53,878.21 L1667.76,878.98 L1668.99,879.75 L1670.22,880.51 L1671.46,881.27 L1672.70,882.02 L1673.94,882.76 L1675.18,883.50 L1676.43,884.23 L1677.68,884.96 L1678.94,885.68 L1680.19,886.39 L1681.45,887.10 L1682.72,887.80 L1683.99,888.50 L1685.26,889.19 L1686.53,889.87 L1687.81,890.54 L1689.09,891.21 L1690.38,891.87 L1691.67,892.53 L1692.96,893.18 L1694.25,893.82 L1695.55,894.45 L1696.86,895.08 L1698.17,895.70 L1699.48,896.31 L1700.79,896.91 L1702.11,897.51 L1703.44,898.10 L1704.76,898.68 L1706.10,899.26 L1707.43,899.82 L1708.77,900.38 L1710.12,900.93 L1711.47,901.47 L1712.82,902.01 L1714.18,902.53 L1715.54,903.05 L1716.90,903.56 L1718.28,904.06 L1719.65,904.55 L1721.03,905.04 L1722.41,905.51 L1723.80,905.98 L1725.20,906.43 L1726.60,906.88 L1728.00,907.32 L1729.41,907.75 L1730.82,908.17 L1732.23,908.58 L1733.65,908.97 L1735.08,909.36 L1736.50,909.73 L1737.94,910.10 L1739.37,910.45 L1740.81,910.79 L1742.25,911.11 L1743.69,911.42 L1745.14,911.72 L1746.59,912.01 L1748.04,912.28 L1749.49,912.54 L1750.95,912.78 L1752.41,913.00 L1753.87,913.21 L1755.33,913.41 L1756.79,913.59 L1758.26,913.75 L1759.73,913.89 L1761.20,914.02 L1762.67,914.13 L1764.14,914.22 L1765.61,914.29 L1767.08,914.35 L1768.55,914.38 L1770.03,914.40 L1771.50,914.40 L1772.98,914.37 L1774.45,914.33 L1775.93,914.27 L1777.40,914.18 L1778.87,914.07 L1780.35,913.94 L1781.82,913.79 L1783.29,913.62 L1784.76,913.42 L1786.23,913.21 L1787.70,912.96 L1789.17,912.70 L1790.64,912.41 L1792.10,912.09 L1793.56,911.75 L1795.03,911.39 L1796.48,911.00 L1797.94,910.58 L1799.40,910.14 L1800.85,909.67 L1802.30,909.17 L1803.74,908.65 L1805.19,908.10 L1806.63,907.52 L1808.07,906.91 L1809.50,906.28 L1810.94,905.61 L1812.36,904.92 L1813.79,904.20 L1815.21,903.44 L1816.62,902.66 L1818.04,901.84 L1819.45,901.00 L1820.85,900.12 L1822.25,899.21 L1822.50,899.06" stroke="#f00"/>
<path d="M238.50,549.76 L239.49,548.87 L240.48,547.98 L241.47,547.09 L242.46,546.21 L243.45,545.34 L244.44,544.46 L245.43,543.59 L246.42,542.73 L247.41,541.87 L248.40,541.01 L249.39,540.16 L250.38,539.32 L251.37,538.48 L252.36,537.64 L253.35,536.81 L254.34,535.99 L255.33,535.17 L256.32,534.36 L257.31,533.55 L258.30,532.75 L259.29,531.95 L260.28,531.16 L261.27,530.38 L262.26,529.60 L263.25,528.83 L264.24,528.06 L265.23,527.30 L266.22,526.55 L267.21,525.81 L268.20,525.07 L269.19,524.34 L270.18,523.62 L271.17,522.91 L272.16,522.20 L273.15,521.51 L274.14,520.82 L275.13,520.13 L276.12,519.46 L277.11,518.80 L278.10,518.14 L279.09,517.50 L280.08,516.86 L281.07,516.24 L282.06,515.62 L283.05,515.01 L284.04,514.42 L285.03,513.83 L286.02,513.26 L287.01,512.69 L288.00,512.14 L288.99,511.60 L289.98,511.07 L290.97,510.55 L291.96,510.04 L292.95,509.55 L293.94,509.07 L294.93,508.60 L295.92,508.15 L296.91,507.71 L297.90,507.28 L298.89,506.87 L299.88,506.48 L300.87,506.09 L301.86,505.73 L302.85,505.37 L303.84,505.04 L304.83,504.72 L305.82,504.42 L306.81,504.13 L307.80,503.86 L308.79,503.61 L309.78,503.38 L310.77,503.17 L311.76,502.97 L312.75,502.80 L313.74,502.64 L314.73,502.51 L315.72,502.39 L316.71,502.30 L317.70,502.23 L318.69,502.17 L319.68,502.15 L320.67,502.14 L321.66,502.16 L322.65,502.20 L323.64,502.27 L324.63,502.36 L325.62,502.47 L326.61,502.61 L327.60,502.78 L328.59,502.97 L329.58,503.19 L330.57,503.44 L331.56,503.71 L332.55,504.01 L333.54,504.34 L334.53,504.69 L335.52,505.08 L336.51,505.49 L337.50,505.92 L338.49,506.39 L339.48,506.89 L340.47,507.41 L341.46,507.96 L342.45,508.53 L343.44,509.14 L344.43,509.77 L345.42,510.42 L346.41,511.10 L347.40,511.81 L348.39,512.54 L349.38,513.29 L350.37,514.06 L351.36,514.86 L352.35,515.68 L353.34,516.51 L354.33,517.37 L355.32,518.24 L356.31,519.14 L357.30,520.04 L358.29,520.97 L359.28,521.90 L360.27,522.85 L361.26,523.81 L362.25,524.78 L363.24,525.77 L364.23,526.76 L365.22,527.76 L366.21,528.77 L367.20,529.79 L368.19,530.81 L369.18,531.84 L370.17,532.87 L371.16,533.91 L372.15,534.95 L373.14,535.99 L374.13,537.04 L375.12,538.09 L376.11,539.14 L377.10,540.20 L378.09,541.25 L379.08,542.31 L380.07,543.37 L381.06,544.43 L382.05,545.49 L383.04,546.55 L384.03,547.61 L385.02,548.67 L386.01,549.73 L387.00,550.80 L387.99,551.86 L388.98,552.92 L389.97,553.98 L390.96,555.05 L391.95,556.11 L392.94,557.17 L393.93,558.23 L394.92,559.30 L395.91,560.36 L396.90,561.42 L397.89,562.48 L398.88,563.54 L399.87,564.61 L400.86,565.67 L401.85,566.73 L402.84,567.79 L403.83,568.85 L404.82,569.91 L405.81,570.97 L406.80,572.03 L407.79,573.09 L408.78,574.15 L409.77,575.21 L410.76,576.27 L411.75,577.33 L412.74,578.39 L413.73,579.45 L414.72,580.51 L415.71,581.56 L416.70,582.62 L417.69,583.68 L418.68,584.74 L419.67,585.79 L420.66,586.85 L421.65,587.91 L422.64,588.96 L423.63,590.02 L424.62,591.07 L425.61,592.13 L426.60,593.18 L427.59,594.24 L428.58,595.29 L429.57,596.34 L430.56,597.40 L431.55,598.45 L432.54,599.50 L433.53,600.55 L434.52,601.61 L435.51,602.66 L436.50,603.71 L437.49,604.76 L438.48,605.81 L439.47,606.86 L440.46,607.91 L441.45,608.96 L442.44,610.00 L443.43,611.05 L444.42,612.10 L445.41,613.15 L446.40,614.19 L447.39,615.24 L448.38,616.28 L449.37,617.33 L450.36,618.37 L451.35,619.41 L452.34,620.46 L453.33,621.50 L454.32,622.54 L455.31,623.58 L456.30,624.62 L457.29,625.66 L458.28,626.70 L459.27,627.74 L460.26,628.77 L461.25,629.81 L462.24,630.85 L463.23,631.88 L464.22,632.92 L465.21,633.95 L466.20,634.98 L467.19,636.01 L468.18,637.04 L469.17,638.08 L470.16,639.10 L471.15,640.13 L472.14,641.16 L473.13,642.19 L474.12,643.21 L475.11,644.24 L476.10,645.26 L477.09,646.28 L478.08,647.30 L479.07,648.32 L480.06,649.34 L481.05,650.36 L482.04,651.38 L483.03,652.39 L484.02,653.41 L485.01,654.42 L486.00,655.43 L486.99,656.44 L487.98,657.45 L488.97,658.46 L489.96,659.47 L490.95,660.47 L491.94,661.48 L492.93,662.48 L493.92,663.48 L494.91,664.48 L495.90,665.48 L496.89,666.47 L497.88,667.47 L498.87,668.46 L499.86,669.45 L500.85,670.44 L501.84,671.43 L502.83,672.41 L503.82,673.40 L504.81,674.38 L505.80,675.36 L506.79,676.34 L507.78,677.31 L508.77,678.29 L509.76,679.26 L510.75,680.23 L511.74,681.19 L512.73,682.16 L513.72,683.12 L514.71,684.08 L515.70,685.04 L516.69,685.99 L517.68,686.95 L518.67,687.90 L519.66,688.84 L520.65,689.79 L521.64,690.73 L522.63,691.67 L523.62,692.61 L524.61,693.54 L525.60,694.47 L526.59,695.40 L527.58,696.32 L528.57,697.24 L529.56,698.16 L530.55,699.07 L531.54,699.98 L532.53,700.89 L533.52,701.79 L534.51,702.69 L535.50,703.59 L536.49,704.48 L537.48,705.37 L538.47,706.25 L539.46,707.13 L540.45,708.01 L541.44,708.88 L542.43,709.74 L543.42,710.61 L544.41,711.46 L545.40,712.32 L546.39,713.17 L547.38,714.01 L548.37,714.85 L549.36,715.68 L550.35,716.51 L551.34,717.33 L552.33,718.15 L553.32,718.96 L554.31,719.76 L555.30,720.56 L556.29,721.36 L557.28,722.14 L558.27,722.93 L559.26,723.70 L560.25,724.47 L561.24,725.23 L562.23,725.99 L563.22,726.73 L564.21,727.47 L565.20,728.21 L566.19,728.93 L567.18,729.65 L568.17,730.36 L569.16,731.07 L570.15,731.76 L571.14,732.45 L572.13,733.12 L573.12,733.79 L574.11,734.45 L575.10,735.10 L576.09,735.74 L577.08,736.38 L578.07,737.00 L579.06,737.61 L580.05,738.21 L581.04,738.81 L582.03,739.39 L583.02,739.96 L584.01,740.52 L585.00,741.06 L585.99,741.60 L586.98,742.13 L587.97,742.64 L588.96,743.14 L589.95,743.63 L590.94,744.10 L591.93,744.56 L592.92,745.01 L593.91,745.44 L594.90,745.86 L595.89,746.27 L596.88,746.66 L597.87,747.04 L598.86,747.40 L599.85,747.74 L600.84,748.07 L601.83,748.38 L602.82,748.68 L603.81,748.96 L604.80,749.22 L605.79,749.46 L606.78,749.69 L607.77,749.89 L608.76,750.08 L609.75,750.25 L610.74,750.39 L611.73,750.52 L612.72,750.63 L613.71,750.71 L614.70,750.77 L615.69,750.81 L616.68,750.83 L617.67,750.83 L618.66,750.80 L619.65,750.75 L620.64,750.67 L621.63,750.57 L622.62,750.45 L623.61,750.29 L624.60,750.12 L625.59,749.91 L626.58,749.68 L627.57,749.43 L628.56,749.14 L629.55,748.83 L630.54,748.49 L631.53,748.13 L632.52,747.73 L633.51,747.31 L634.50,746.86 L635.49,746.38 L636.48,745.87 L637.47,745.34 L638.46,744.78 L639.45,744.19 L640.44,743.58 L641.43,742.94 L642.42,742.27 L643.41,741.58 L644.40,740.86 L645.39,740.13 L646.38,739.36 L647.37,738.58 L648.36,737.77 L649.35,736.95 L650.34,736.10 L651.33,735.24 L652.32,734.36 L653.31,733.46 L654.30,732.55 L655.29,731.62 L656.28,730.68 L657.27,729.72 L658.26,728.76 L659.25,727.78 L660.24,726.79 L661.23,725.80 L662.22,724.79 L663.21,723.78 L664.20,722.76 L665.19,721.74 L666.18,720.71 L667.17,719.67 L668.16,718.63 L669.15,717.59 L670.14,716.54 L671.13,715.50 L672.12,714.44 L673.11,713.39 L674.10,712.34 L675.09,711.28 L676.08,710.22 L677.07,709.16 L678.06,708.10 L679.05,707.04 L680.04,705.98 L681.03,704.92 L682.02,703.86 L683.01,702.80 L684.00,701.73 L684.99,700.67 L685.98,699.61 L686.97,698.55 L687.96,697.48 L688.95,696.42 L689.94,695.36 L690.93,694.29 L691.92,693.23 L692.91,692.17 L693.90,691.11 L694.89,690.05 L695.88,688.98 L696.87,687.92 L697.86,686.86 L698.85,685.80 L699.84,684.74 L700.83,683.68 L701.82,682.62 L702.81,681.56 L703.80,680.50 L704.79,679.44 L705.78,678.38 L706.77,677.32 L707.76,676.26 L708.75,675.20 L709.74,674.14 L710.73,673.08 L711.72,672.03 L712.71,670.97 L713.70,669.91 L714.69,668.85 L715.68,667.80 L716.67,666.74 L717.66,665.68 L718.65,664.63 L719.64,663.57 L720.63,662.51 L721.62,661.46 L722.61,660.40 L723.60,659.35 L724.59,658.30 L725.58,657.24 L726.57,656.19 L727.56,655.14 L728.55,654.08 L729.54,653.03 L730.53,651.98 L731.52,650.93 L732.51,649.88 L733.50,648.82 L734.49,647.77 L735.48,646.72 L736.47,645.68 L737.46,644.63 L738.45,643.58 L739.44,642.53 L740.43,641.48 L741.42,640.44 L742.41,639.39 L743.40,638.34 L744.39,637.30 L745.38,636.25 L746.37,635.21 L747.36,634.17 L748.35,633.12 L749.34,632.08 L750.33,631.04 L751.32,630.00 L752.31,628.96 L753.30,627.92 L754.29,626.88 L755.28,625.84 L756.27,624.80 L757.26,623.77 L758.25,622.73 L759.24,621.69 L760.23,620.66 L761.22,619.62 L762.21,618.59 L763.20,617.56 L764.19,616.53 L765.18,615.50 L766.17,614.47 L767.16,613.44 L768.15,612.41 L769.14,611.38 L770.13,610.36 L771.12,609.33 L772.11,608.31 L773.10,607.29 L774.09,606.26 L775.08,605.24 L776.07,604.22 L777.06,603.20 L778.05,602.19 L779.04,601.17 L780.03,600.15 L781.02,599.14 L782.01,598.13 L783.00,597.12 L783.99,596.11 L784.98,595.10 L785.97,594.09 L786.96,593.08 L787.95,592.08 L788.94,591.08 L789.93,590.07 L790.92,589.07 L791.91,588.08 L792.90,587.08 L793.89,586.08 L794.88,585.09 L795.87,584.10 L796.86,583.11 L797.85,582.12 L798.84,581.13 L799.83,580.15 L800.82,579.16 L801.81,578.18 L802.80,577.20 L803.79,576.23 L804.78,575.25 L805.77,574.28 L806.76,573.31 L807.75,572.34 L808.74,571.37 L809.73,570.41 L810.72,569.45 L811.71,568.49 L812.70,567.53 L813.69,566.58 L814.68,565.63 L815.67,564.68 L816.66,563.73 L817.65,562.79 L818.64,561.85 L819.63,560.91 L820.62,559.98 L821.61,559.04 L822.60,558.12 L823.59,557.19 L824.58,556.27 L825.57,555.35 L826.56,554.43 L827.55,553.52 L828.54,552.61 L829.53,551.71 L830.52,550.80 L831.51,549.91 L832.50,549.01 L833.49,548.12 L834.48,547.24 L835.47,546.35 L836.46,545.48 L837.45,544.60 L838.44,543.73 L839.43,542.87 L840.42,542.01 L841.41,541.15 L842.40,540.30 L843.39,539.45 L844.38,538.61 L845.37,537.78 L846.36,536.95 L847.35,536.12 L848.34,535.30 L849.33,534.49 L850.32,533.68 L851.31,532.87 L852.30,532.08 L853.29,531.29 L854.28,530.50 L855.27,529.72 L856.26,528.95 L857.25,528.18 L858.24,527.43 L859.23,526.67 L860.22,525.93 L861.21,525.19 L862.20,524.46 L863.19,523.74 L864.18,523.02 L865.17,522.32 L866.16,521.62 L867.15,520.93 L868.14,520.24 L869.13,519.57 L870.12,518.90 L871.11,518.25 L872.10,517.60 L873.09,516.96 L874.08,516.34 L875.07,515.72 L876.06,515.11 L877.05,514.51 L878.04,513.92 L879.03,513.35 L880.02,512.78 L881.01,512.23 L882.00,511.68 L882.99,511.15 L883.98,510.63 L884.97,510.12 L885.96,509.63 L886.95,509.15 L887.94,508.68 L888.93,508.22 L889.92,507.78 L890.91,507.35 L891.90,506.94 L892.89,506.54 L893.88,506.15 L894.87,505.78 L895.86,505.43 L896.85,505.09 L897.84,504.77 L898.83,504.46 L899.82,504.18 L900.81,503.91 L901.80,503.65 L902.79,503.42 L903.78,503.20 L904.77,503.00 L905.76,502.82 L906.75,502.67 L907.74,502.53 L908.73,502.41 L909.72,502.31 L910.71,502.24 L911.70,502.18 L912.69,502.15 L913.68,502.14 L914.67,502.16 L915.66,502.19 L916.65,502.25 L917.64,502.34 L918.63,502.45 L919.62,502.59 L920.61,502.75 L921.60,502.94 L922.59,503.15 L923.58,503.40 L924.57,503.66 L925.56,503.96 L926.55,504.28 L927.54,504.63 L928.53,505.01 L929.52,505.42 L930.51,505.85 L931.50,506.31 L932.49,506.80 L933.48,507.32 L934.47,507.87 L935.46,508.44 L936.45,509.04 L937.44,509.66 L938.43,510.31 L939.42,510.99 L940.41,511.69 L941.40,512.42 L942.39,513.17 L943.38,513.94 L944.37,514.73 L945.36,515.55 L946.35,516.38 L947.34,517.23 L948.33,518.10 L949.32,518.99 L950.31,519.90 L951.30,520.82 L952.29,521.75 L953.28,522.70 L954.27,523.66 L955.26,524.63 L956.25,525.61 L957.24,526.60 L958.23,527.60 L959.22,528.61 L960.21,529.62 L961.20,530.64 L962.19,531.67 L963.18,532.70 L964.17,533.74 L965.16,534.78 L966.15,535.82 L967.14,536.87 L968.13,537.92 L969.12,538.97 L970.11,540.03 L971.10,541.08 L972.09,542.14 L973.08,543.20 L974.07,544.26 L975.06,545.32 L976.05,546.38 L977.04,547.44 L978.03,548.50 L979.02,549.56 L980.01,550.63 L981.00,551.69 L981.99,552.75 L982.98,553.81 L983.97,554.88 L984.96,555.94 L985.95,557.00 L986.94,558.06 L987.93,559.13 L988.92,560.19 L989.91,561.25 L990.90,562.31 L991.89,563.37 L992.88,564.44 L993.87,565.50 L994.86,566.56 L995.85,567.62 L996.84,568.68 L997.83,569.74 L998.82,570.80 L999.81,571.86 L1000.80,572.92 L1001.79,573.98 L1002.78,575.04 L1003.77,576.10 L1004.76,577.16 L1005.75,578.22 L1006.74,579.28 L1007.73,580.34 L1008.72,581.39 L1009.71,582.45 L1010.70,583.51 L1011.69,584.57 L1012.68,585.62 L1013.67,586.68 L1014.66,587.74 L1015.65,588.79 L1016.64,589.85 L1017.63,590.90 L1018.62,591.96 L1019.61,593.01 L1020.60,594.07 L1021.59,595.12 L1022.58,596.18 L1023.57,597.23 L1024.56,598.28 L1025.55,599.33 L1026.54,600.39 L1027.53,601.44 L1028.52,602.49 L1029.51,603.54 L1030.50,604.59 L1031.49,605.64 L1032.48,606.69 L1033.47,607.74 L1034.46,608.79 L1035.45,609.84 L1036.44,610.88 L1037.43,611.93 L1038.42,612.98 L1039.41,614.02 L1040.40,615.07 L1041.39,616.11 L1042.38,617.16 L1043.37,618.20 L1044.36,619.25 L1045.35,620.29 L1046.34,621.33 L1047.33,622.37 L1048.32,623.41 L1049.31,624.45 L1050.30,625.49 L1051.29,626.53 L1052.28,627.57 L1053.27,628.61 L1054.26,629.64 L1055.25,630.68 L1056.24,631.72 L1057.23,632.75 L1058.22,633.78 L1059.21,634.82 L1060.20,635.85 L1061.19,636.88 L1062.18,637.91 L1063.17,638.94 L1064.16,639.97 L1065.15,641.00 L1066.14,642.02 L1067.13,643.05 L1068.12,644.07 L1069.11,645.10 L1070.10,646.12 L1071.09,647.14 L1072.08,648.16 L1073.07,649.18 L1074.06,650.20 L1075.05,651.22 L1076.04,652.23 L1077.03,653.25 L1078.02,654.26 L1079.01,655.27 L1080.00,656.28 L1080.99,657.29 L1081.98,658.30 L1082.97,659.31 L1083.96,660.31 L1084.95,661.32 L1085.94,662.32 L1086.93,663.32 L1087.92,664.32 L1088.91,665.32 L1089.90,666.31 L1090.89,667.31 L1091.88,668.30 L1092.87,669.29 L1093.86,670.28 L1094.85,671.27 L1095.84,672.26 L1096.83,673.24 L1097.82,674.22 L1098.81,675.20 L1099.80,676.18 L1100.79,677.16 L1101.78,678.13 L1102.77,679.10 L1103.76,680.07 L1104.75,681.04 L1105.74,682.01 L1106.73,682.97 L1107.72,683.93 L1108.71,684.89 L1109.70,685.84 L1110.69,686.80 L1111.68,687.75 L1112.67,688.69 L1113.66,689.64 L1114.65,690.58 L1115.64,691.52 L1116.63,692.46 L1117.62,693.39 L1118.61,694.32 L1119.60,695.25 L1120.59,696.17 L1121.58,697.09 L1122.57,698.01 L1123.56,698.93 L1124.55,699.84 L1125.54,700.74 L1126.53,701.65 L1127.52,702.55 L1128.51,703.44 L1129.50,704.34 L1130.49,705.23 L1131.48,706.11 L1132.47,706.99 L1133.46,707.87 L1134.45,708.74 L1135.44,709.61 L1136.43,710.47 L1137.42,711.33 L1138.41,712.18 L1139.40,713.03 L1140.39,713.87 L1141.38,714.71 L1142.37,715.55 L1143.36,716.38 L1144.35,717.20 L1145.34,718.02 L1146.33,718.83 L1147.32,719.64 L1148.31,720.44 L1149.30,721.23 L1150.29,722.02 L1151.28,722.80 L1152.27,723.58 L1153.26,724.35 L1154.25,725.11 L1155.24,725.87 L1156.23,726.61 L1157.22,727.36 L1158.21,728.09 L1159.20,728.82 L1160.19,729.54 L1161.18,730.25 L1162.17,730.95 L1163.16,731.65 L1164.15,732.34 L1165.14,733.02 L1166.13,733.69 L1167.12,734.35 L1168.11,735.00 L1169.10,735.64 L1170.09,736.28 L1171.08,736.90 L1172.07,737.51 L1173.06,738.12 L1174.05,738.71 L1175.04,739.29 L1176.03,739.87 L1177.02,740.43 L1178.01,740.98 L1179.00,741.52 L1179.99,742.04 L1180.98,742.56 L1181.97,743.06 L1182.96,743.55 L1183.95,744.03 L1184.94,744.49 L1185.93,744.94 L1186.92,745.38 L1187.91,745.80 L1188.90,746.21 L1189.89,746.60 L1190.88,746.98 L1191.87,747.34 L1192.86,747.69 L1193.85,748.02 L1194.84,748.33 L1195.83,748.63 L1196.82,748.91 L1197.81,749.18 L1198.80,749.42 L1199.79,749.65 L1200.78,749.86 L1201.77,750.05 L1202.76,750.22 L1203.75,750.37 L1204.74,750.50 L1205.73,750.61 L1206.72,750.70 L1207.71,750.76 L1208.70,750.81 L1209.69,750.83 L1210.68,750.83 L1211.67,750.81 L1212.66,750.76 L1213.65,750.69 L1214.64,750.59 L1215.63,750.47 L1216.62,750.32 L1217.61,750.15 L1218.60,749.95 L1219.59,749.72 L1220.58,749.47 L1221.57,749.19 L1222.56,748.88 L1223.55,748.55 L1224.54,748.19 L1225.53,747.80 L1226.52,747.38 L1227.51,746.93 L1228.50,746.46 L1229.49,745.96 L1230.48,745.43 L1231.47,744.87 L1232.46,744.29 L1233.45,743.68 L1234.44,743.04 L1235.43,742.38 L1236.42,741.69 L1237.41,740.98 L1238.40,740.25 L1239.39,739.49 L1240.38,738.71 L1241.37,737.90 L1242.36,737.08 L1243.35,736.24 L1244.34,735.38 L1245.33,734.50 L1246.32,733.60 L1247.31,732.69 L1248.30,731.77 L1249.29,730.83 L1250.28,729.87 L1251.27,728.91 L1252.26,727.93 L1253.25,726.95 L1254.24,725.95 L1255.23,724.95 L1256.22,723.94 L1257.21,722.92 L1258.20,721.90 L1259.19,720.87 L1260.18,719.84 L1261.17,718.80 L1262.16,717.76 L1263.15,716.71 L1264.14,715.66 L1265.13,714.61 L1266.12,713.56 L1267.11,712.50 L1268.10,711.45 L1269.09,710.39 L1270.08,709.33 L1271.07,708.27 L1272.06,707.21 L1273.05,706.15 L1274.04,705.09 L1275.03,704.03 L1276.02,702.97 L1277.01,701.90 L1278.00,700.84 L1278.99,699.78 L1279.98,698.72 L1280.97,697.65 L1281.96,696.59 L1282.95,695.53 L1283.94,694.46 L1284.93,693.40 L1285.92,692.34 L1286.91,691.28 L1287.90,690.22 L1288.89,689.15 L1289.88,688.09 L1290.87,687.03 L1291.86,685.97 L1292.85,684.91 L1293.84,683.85 L1294.83,682.79 L1295.82,681.73 L1296.81,680.67 L1297.80,679.61 L1298.79,678.55 L1299.78,677.49 L1300.77,676.43 L1301.76,675.37 L1302.75,674.31 L1303.74,673.25 L1304.73,672.19 L1305.72,671.14 L1306.71,670.08 L1307.70,669.02 L1308.69,667.96 L1309.68,666.91 L1310.67,665.85 L1311.66,664.79 L1312.65,663.74 L1313.64,662.68 L1314.63,661.63 L1315.62,660.57 L1316.61,659.52 L1317.60,658.46 L1318.59,657.41 L1319.58,656.36 L1320.57,655.30 L1321.56,654.25 L1322.55,653.20 L1323.54,652.15 L1324.53,651.09 L1325.52,650.04 L1326.51,648.99 L1327.50,647.94 L1328.49,646.89 L1329.48,645.84 L1330.47,644.79 L1331.46,643.75 L1332.45,642.70 L1333.44,641.65 L1334.43,640.60 L1335.42,639.56 L1336.41,638.51 L1337.40,637.47 L1338.39,636.42 L1339.38,635.38 L1340.37,634.33 L1341.36,633.29 L1342.35,632.25 L1343.34,631.21 L1344.33,630.16 L1345.32,629.12 L1346.31,628.08 L1347.30,627.04 L1348.29,626.01 L1349.28,624.97 L1350.27,623.93 L1351.26,622.89 L1352.25,621.86 L1353.24,620.82 L1354.23,619.79 L1355.22,618.76 L1356.21,617.72 L1357.20,616.69 L1358.19,615.66 L1359.18,614.63 L1360.17,613.60 L1361.16,612.57 L1362.15,611.55 L1363.14,610.52 L1364.13,609.50 L1365.12,608.47 L1366.11,607.45 L1367.10,606.43 L1368.09,605.41 L1369.08,604.39 L1370.07,603.37 L1371.06,602.35 L1372.05,601.33 L1373.04,600.32 L1374.03,599.30 L1375.02,598.29 L1376.01,597.28 L1377.00,596.27 L1377.99,595.26 L1378.98,594.25 L1379.97,593.24 L1380.96,592.24 L1381.95,591.24 L1382.94,590.23 L1383.93,589.23 L1384.92,588.24 L1385.91,587.24 L1386.90,586.24 L1387.89,585.25 L1388.88,584.26 L1389.87,583.27 L1390.86,582.28 L1391.85,581.29 L1392.84,580.30 L1393.83,579.32 L1394.82,578.34 L1395.81,577.36 L1396.80,576.38 L1397.79,575.41 L1398.78,574.44 L1399.77,573.46 L1400.76,572.50 L1401.75,571.53 L1402.74,570.56 L1403.73,569.60 L1404.72,568.64 L1405.71,567.69 L1406.70,566.73 L1407.69,565.78 L1408.68,564.83 L1409.67,563.88 L1410.66,562.94 L1411.65,562.00 L1412.64,561.06 L1413.63,560.13 L1414.62,559.19 L1415.61,558.26 L1416.60,557.34 L1417.59,556.41 L1418.58,555.49 L1419.57,554.58 L1420.56,553.67 L1421.55,552.76 L1422.54,551.85 L1423.53,550.95 L1424.52,550.05 L1425.51,549.15 L1426.50,548.26 L1427.49,547.38 L1428.48,546.49 L1429.47,545.62 L1430.46,544.74 L1431.45,543.87 L1432.44,543.01 L1433.43,542.14 L1434.42,541.29 L1435.41,540.44 L1436.40,539.59 L1437.39,538.75 L1438.38,537.91 L1439.37,537.08 L1440.36,536.25 L1441.35,535.43 L1442.34,534.62 L1443.33,533.81 L1444.32,533.00 L1445.31,532.20 L1446.30,531.41 L1447.29,530.63 L1448.28,529.85 L1449.27,529.07 L1450.26,528.31 L1451.25,527.55 L1452.24,526.79 L1453.23,526.05 L1454.22,525.31 L1455.21,524.58 L1456.20,523.85 L1457.19,523.14 L1458.18,522.43 L1459.17,521.73 L1460.16,521.04 L1461.15,520.35 L1462.14,519.68 L1463.13,519.01 L1464.12,518.35 L1465.11,517.70 L1466.10,517.06 L1467.09,516.44 L1468.08,515.82 L1469.07,515.21 L1470.06,514.61 L1471.05,514.02 L1472.04,513.44 L1473.03,512.87 L1474.02,512.31 L1475.01,511.77 L1476.00,511.24 L1476.99,510.71 L1477.98,510.20 L1478.97,509.71 L1479.96,509.22 L1480.95,508.75 L1481.94,508.29 L1482.93,507.85 L1483.92,507.42 L1484.91,507.00 L1485.90,506.60 L1486.89,506.21 L1487.88,505.84 L1488.87,505.49 L1489.86,505.15 L1490.85,504.82 L1491.84,504.51 L1492.83,504.22 L1493.82,503.95 L1494.81,503.69 L1495.80,503.45 L1496.79,503.23 L1497.78,503.03 L1498.77,502.85 L1499.76,502.69 L1500.75,502.55 L1501.74,502.43 L1502.73,502.33 L1503.72,502.25 L1504.71,502.19 L1505.70,502.15 L1506.69,502.14 L1507.68,502.15 L1508.67,502.19 L1509.66,502.24 L1510.65,502.33 L1511.64,502.43 L1512.63,502.57 L1513.62,502.72 L1514.61,502.91 L1515.60,503.12 L1516.59,503.36 L1517.58,503.62 L1518.57,503.91 L1519.56,504.23 L1520.55,504.58 L1521.54,504.95 L1522.53,505.35 L1523.52,505.78 L1524.51,506.24 L1525.50,506.72 L1526.49,507.24 L1527.48,507.78 L1528.47,508.35 L1529.46,508.94 L1530.45,509.56 L1531.44,510.21 L1532.43,510.88 L1533.42,511.58 L1534.41,512.30 L1535.40,513.05 L1536.39,513.81 L1537.38,514.60 L1538.37,515.41 L1539.36,516.24 L1540.35,517.09 L1541.34,517.96 L1542.33,518.85 L1543.32,519.75 L1544.31,520.67 L1545.30,521.60 L1546.29,522.55 L1547.28,523.50 L1548.27,524.47 L1549.26,525.45 L1550.25,526.44 L1551.24,527.44 L1552.23,528.45 L1553.22,529.46 L1554.21,530.48 L1555.20,531.51 L1556.19,532.54 L1557.18,533.57 L1558.17,534.61 L1559.16,535.66 L1560.15,536.70 L1561.14,537.75 L1562.13,538.80 L1563.12,539.86 L1564.11,540.91 L1565.10,541.97 L1566.09,543.03 L1567.08,544.09 L1568.07,545.15 L1569.06,546.21 L1570.05,547.27 L1571.04,548.33 L1572.03,549.39 L1573.02,550.46 L1574.01,551.52 L1575.00,552.58 L1575.99,553.64 L1576.98,554.71 L1577.97,555.77 L1578.96,556.83 L1579.95,557.89 L1580.94,558.96 L1581.93,560.02 L1582.92,561.08 L1583.91,562.14 L1584.90,563.20 L1585.89,564.27 L1586.88,565.33 L1587.87,566.39 L1588.86,567.45 L1589.85,568.51 L1590.84,569.57 L1591.83,570.63 L1592.82,571.69 L1593.81,572.75 L1594.80,573.81 L1595.79,574.87 L1596.78,575.93 L1597.77,576.99 L1598.76,578.05 L1599.75,579.11 L1600.74,580.17 L1601.73,581.22 L1602.72,582.28 L1603.71,583.34 L1604.70,584.40 L1605.69,585.45 L1606.68,586.51 L1607.67,587.57 L1608.66,588.62 L1609.65,589.68 L1610.64,590.73 L1611.63,591.79 L1612.62,592.84 L1613.61,593.90 L1614.60,594.95 L1615.59,596.01 L1616.58,597.06 L1617.57,598.11 L1618.56,599.17 L1619.55,600.22 L1620.54,601.27 L1621.53,602.32 L1622.52,603.37 L1623.51,604.42 L1624.50,605.47 L1625.49,606.52 L1626.48,607.57 L1627.47,608.62 L1628.46,609.67 L1629.45,610.72 L1630.44,611.76 L1631.43,612.81 L1632.42,613.86 L1633.41,614.90 L1634.40,615.95 L1635.39,616.99 L1636.38,618.04 L1637.37,619.08 L1638.36,620.12 L1639.35,621.16 L1640.34,622.21 L1641.33,623.25 L1642.32,624.29 L1643.31,625.33 L1644.30,626.37 L1645.29,627.40 L1646.28,628.44 L1647.27,629.48 L1648.26,630.52 L1649.25,631.55 L1650.24,632.58 L1651.23,633.62 L1652.22,634.65 L1653.21,635.68 L1654.20,636.72 L1655.19,637.75 L1656.18,638.78 L1657.17,639.80 L1658.16,640.83 L1659.15,641.86 L1660.14,642.88 L1661.13,643.91 L1662.12,644.93 L1663.11,645.96 L1664.10,646.98 L1665.09,648.00 L1666.08,649.02 L1667.07,650.04 L1668.06,651.05 L1669.05,652.07 L1670.04,653.08 L1671.03,654.10 L1672.02,655.11 L1673.01,656.12 L1674.00,657.13 L1674.99,658.14 L1675.98,659.15 L1676.97,660.15 L1677.96,661.16 L1678.95,662.16 L1679.94,663.16 L1680.93,664.16 L1681.92,665.16 L1682.91,666.15 L1683.90,667.15 L1684.89,668.14 L1685.88,669.13 L1686.87,670.12 L1687.86,671.11 L1688.85,672.10 L1689.84,673.08 L1690.83,674.07 L1691.82,675.05 L1692.81,676.02 L1693.80,677.00 L1694.79,677.98 L1695.78,678.95 L1696.77,679.92 L1697.76,680.89 L1698.75,681.85 L1699.74,682.81 L1700.73,683.78 L1701.72,684.73 L1702.71,685.69 L1703.70,686.64 L1704.69,687.59 L1705.68,688.54 L1706.67,689.49 L1707.66,690.43 L1708.65,691.37 L1709.64,692.31 L1710.63,693.24 L1711.62,694.17 L1712.61,695.10 L1713.60,696.03 L1714.59,696.95 L1715.58,697.87 L1716.57,698.78 L1717.56,699.69 L1718.55,700.60 L1719.54,701.50 L1720.53,702.40 L1721.52,703.30 L1722.51,704.19 L1723.50,705.08 L1724.49,705.97 L1725.48,706.85 L1726.47,707.73 L1727.46,708.60 L1728.45,709.47 L1729.44,710.33 L1730.43,711.19 L1731.42,712.04 L1732.41,712.89 L1733.40,713.74 L1734.39,714.58 L1735.38,715.41 L1736.37,716.24 L1737.36,717.07 L1738.35,717.89 L1739.34,718.70 L1740.33,719.51 L1741.32,720.31 L1742.31,721.10 L1743.30,721.89 L1744.29,722.68 L1745.28,723.45 L1746.27,724.22 L1747.26,724.99 L1748.25,725.75 L1749.24,726.50 L1750.23,727.24 L1751.22,727.97 L1752.21,728.70 L1753.20,729.42 L1754.19,730.14 L1755.18,730.84 L1756.17,731.54 L1757.16,732.23 L1758.15,732.91 L1759.14,733.58 L1760.13,734.24 L1761.12,734.90 L1762.11,735.54 L1763.10,736.18 L1764.09,736.80 L1765.08,737.42 L1766.07,738.02 L1767.06,738.62 L1768.05,739.20 L1769.04,739.78 L1770.03,740.34 L1771.02,740.89 L1772.01,741.43 L1773.00,741.96 L1773.99,742.48 L1774.98,742.98 L1775.97,743.47 L1776.96,743.95 L1777.95,744.42 L1778.94,744.87 L1779.93,745.31 L1780.92,745.73 L1781.91,746.14 L1782.90,746.54 L1783.89,746.92 L1784.88,747.28 L1785.87,747.63 L1786.86,747.97 L1787.85,748.29 L1788.84,748.59 L1789.83,748.87 L1790.82,749.14 L1791.81,749.39 L1792.80,749.62 L1793.79,749.83 L1794.78,750.02 L1795.77,750.19 L1796.76,750.35 L1797.75,750.48 L1798.74,750.59 L1799.73,750.69 L1800.72,750.76 L1801.71,750.80 L1802.70,750.83 L1803.69,750.83 L1804.68,750.81 L1805.67,750.77 L1806.66,750.70 L1807.65,750.61 L1808.64,750.49 L1809.63,750.35 L1810.62,750.18 L1811.61,749.98 L1812.60,749.76 L1813.59,749.51 L1814.58,749.24 L1815.57,748.93 L1816.56,748.60 L1817.55,748.25 L1818.54,747.86 L1819.53,747.45 L1820.52,747.00 L1821.51,746.54 L1822.50,746.04" stroke="#00f"/>
<path d="M238.50,581.18 L239.49,582.09 L240.48,583.00 L241.47,583.93 L242.46,584.85 L243.45,585.79 L244.44,586.73 L245.43,587.67 L246.42,588.62 L247.41,589.56 L248.40,590.52 L249.39,591.47 L250.38,592.42 L251.37,593.38 L252.36,594.34 L253.35,595.30 L254.34,596.26 L255.33,597.22 L256.32,598.18 L257.31,599.14 L258.30,600.11 L259.29,601.07 L260.28,602.03 L261.27,602.99 L262.26,603.96 L263.25,604.92 L264.24,605.88 L265.23,606.85 L266.22,607.81 L267.21,608.78 L268.20,609.74 L269.19,610.70 L270.18,611.67 L271.17,612.63 L272.16,613.59 L273.15,614.56 L274.14,615.52 L275.13,616.49 L276.12,617.45 L277.11,618.41 L278.10,619.38 L279.09,620.34 L280.08,621.31 L281.07,622.27 L282.06,623.23 L283.05,624.20 L284.04,625.16 L285.03,626.13 L286.02,627.09 L287.01,628.05 L288.00,629.02 L288.99,629.98 L289.98,630.94 L290.97,631.91 L291.96,632.87 L292.95,633.84 L293.94,634.80 L294.93,635.76 L295.92,636.73 L296.91,637.69 L297.90,638.66 L298.89,639.62 L299.88,640.58 L300.87,641.55 L301.86,642.51 L302.85,643.47 L303.84,644.44 L304.83,645.40 L305.82,646.37 L306.81,647.33 L307.80,648.29 L308.79,649.26 L309.78,650.22 L310.77,651.18 L311.76,652.14 L312.75,653.11 L313.74,654.07 L314.73,655.03 L315.72,655.99 L316.71,656.95 L317.70,657.91 L318.69,658.87 L319.68,659.83 L320.67,660.78 L321.66,661.74 L322.65,662.69 L323.64,663.64 L324.63,664.58 L325.62,665.53 L326.61,666.47 L327.60,667.40 L328.59,668.33 L329.58,669.25 L330.57,670.17 L331.56,671.08 L332.55,671.98 L333.54,672.87 L334.53,673.75 L335.52,674.61 L336.51,675.46 L337.50,676.30 L338.49,677.11 L339.48,677.91 L340.47,678.69 L341.46,679.44 L342.45,680.17 L343.44,680.87 L344.43,681.55 L345.42,682.19 L346.41,682.79 L347.40,683.37 L348.39,683.90 L349.38,684.40 L350.37,684.85 L351.36,685.27 L352.35,685.63 L353.34,685.96 L354.33,686.23 L355.32,686.46 L356.31,686.63 L357.30,686.76 L358.29,686.83 L359.28,686.86 L360.27,686.83 L361.26,686.75 L362.25,686.62 L363.24,686.44 L364.23,686.21 L365.22,685.93 L366.21,685.61 L367.20,685.23 L368.19,684.82 L369.18,684.36 L370.17,683.86 L371.16,683.32 L372.15,682.75 L373.14,682.14 L374.13,681.49 L375.12,680.82 L376.11,680.11 L377.10,679.38 L378.09,678.63 L379.08,677.85 L380.07,677.05 L381.06,676.23 L382.05,675.39 L383.04,674.54 L384.03,673.68 L385.02,672.80 L386.01,671.91 L387.00,671.01 L387.99,670.10 L388.98,669.18 L389.97,668.26 L390.96,667.33 L391.95,666.39 L392.94,665.45 L393.93,664.51 L394.92,663.56 L395.91,662.61 L396.90,661.66 L397.89,660.71 L398.88,659.75 L399.87,658.79 L400.86,657.83 L401.85,656.87 L402.84,655.91 L403.83,654.95 L404.82,653.99 L405.81,653.03 L406.80,652.07 L407.79,651.10 L408.78,650.14 L409.77,649.18 L410.76,648.21 L411.75,647.25 L412.74,646.29 L413.73,645.32 L414.72,644.36 L415.71,643.40 L416.70,642.43 L417.69,641.47 L418.68,640.50 L419.67,639.54 L420.66,638.58 L421.65,637.61 L422.64,636.65 L423.63,635.69 L424.62,634.72 L425.61,633.76 L426.60,632.79 L427.59,631.83 L428.58,630.87 L429.57,629.90 L430.56,628.94 L431.55,627.97 L432.54,627.01 L433.53,626.05 L434.52,625.08 L435.51,624.12 L436.50,623.16 L437.49,622.19 L438.48,621.23 L439.47,620.26 L440.46,619.30 L441.45,618.34 L442.44,617.37 L443.43,616.41 L444.42,615.44 L445.41,614.48 L446.40,613.52 L447.39,612.55 L448.38,611.59 L449.37,610.62 L450.36,609.66 L451.35,608.70 L452.34,607.73 L453.33,606.77 L454.32,605.81 L455.31,604.84 L456.30,603.88 L457.29,602.92 L458.28,601.95 L459.27,600.99 L460.26,600.03 L461.25,599.07 L462.24,598.10 L463.23,597.14 L464.22,596.18 L465.21,595.22 L466.20,594.26 L467.19,593.30 L468.18,592.35 L469.17,591.39 L470.16,590.44 L471.15,589.49 L472.14,588.54 L473.13,587.59 L474.12,586.65 L475.11,585.71 L476.10,584.78 L477.09,583.85 L478.08,582.93 L479.07,582.02 L480.06,581.11 L481.05,580.21 L482.04,579.33 L483.03,578.45 L484.02,577.59 L485.01,576.75 L486.00,575.92 L486.99,575.10 L487.98,574.31 L488.97,573.54 L489.96,572.79 L490.95,572.07 L491.94,571.38 L492.93,570.72 L493.92,570.08 L494.91,569.49 L495.90,568.92 L496.89,568.40 L497.88,567.91 L498.87,567.47 L499.86,567.07 L500.85,566.72 L501.84,566.41 L502.83,566.15 L503.82,565.94 L504.81,565.78 L505.80,565.67 L506.79,565.61 L507.78,565.60 L508.77,565.64 L509.76,565.73 L510.75,565.88 L511.74,566.07 L512.73,566.31 L513.72,566.61 L514.71,566.94 L515.70,567.33 L516.69,567.76 L517.68,568.23 L518.67,568.74 L519.66,569.29 L520.65,569.87 L521.64,570.50 L522.63,571.15 L523.62,571.83 L524.61,572.54 L525.60,573.28 L526.59,574.04 L527.58,574.83 L528.57,575.64 L529.56,576.46 L530.55,577.30 L531.54,578.16 L532.53,579.03 L533.52,579.91 L534.51,580.80 L535.50,581.70 L536.49,582.62 L537.48,583.53 L538.47,584.46 L539.46,585.39 L540.45,586.33 L541.44,587.27 L542.43,588.21 L543.42,589.16 L544.41,590.11 L545.40,591.06 L546.39,592.02 L547.38,592.98 L548.37,593.93 L549.36,594.89 L550.35,595.85 L551.34,596.81 L552.33,597.77 L553.32,598.74 L554.31,599.70 L555.30,600.66 L556.29,601.62 L557.28,602.59 L558.27,603.55 L559.26,604.51 L560.25,605.48 L561.24,606.44 L562.23,607.40 L563.22,608.37 L564.21,609.33 L565.20,610.29 L566.19,611.26 L567.18,612.22 L568.17,613.19 L569.16,614.15 L570.15,615.11 L571.14,616.08 L572.13,617.04 L573.12,618.01 L574.11,618.97 L575.10,619.93 L576.09,620.90 L577.08,621.86 L578.07,622.82 L579.06,623.79 L580.05,624.75 L581.04,625.72 L582.03,626.68 L583.02,627.64 L584.01,628.61 L585.00,629.57 L585.99,630.54 L586.98,631.50 L587.97,632.46 L588.96,633.43 L589.95,634.39 L590.94,635.36 L591.93,636.32 L592.92,637.28 L593.91,638.25 L594.90,639.21 L595.89,640.17 L596.88,641.14 L597.87,642.10 L598.86,643.07 L599.85,644.03 L600.84,644.99 L601.83,645.96 L602.82,646.92 L603.81,647.88 L604.80,648.85 L605.79,649.81 L606.78,650.77 L607.77,651.74 L608.76,652.70 L609.75,653.66 L610.74,654.62 L611.73,655.58 L612.72,656.54 L613.71,657.50 L614.70,658.46 L615.69,659.42 L616.68,660.38 L617.67,661.33 L618.66,662.29 L619.65,663.24 L620.64,664.18 L621.63,665.13 L622.62,666.07 L623.61,667.01 L624.60,667.94 L625.59,668.86 L626.58,669.78 L627.57,670.69 L628.56,671.60 L629.55,672.49 L630.54,673.38 L631.53,674.25 L632.52,675.10 L633.51,675.94 L634.50,676.77 L635.49,677.58 L636.48,678.36 L637.47,679.13 L638.46,679.87 L639.45,680.58 L640.44,681.26 L641.43,681.92 L642.42,682.54 L643.41,683.13 L644.40,683.68 L645.39,684.19 L646.38,684.67 L647.37,685.10 L648.36,685.48 L649.35,685.82 L650.34,686.12 L651.33,686.37 L652.32,686.56 L653.31,686.71 L654.30,686.81 L655.29,686.85 L656.28,686.85 L657.27,686.79 L658.26,686.68 L659.25,686.52 L660.24,686.31 L661.23,686.06 L662.22,685.75 L663.21,685.40 L664.20,685.00 L665.19,684.56 L666.18,684.08 L667.17,683.56 L668.16,683.00 L669.15,682.40 L670.14,681.77 L671.13,681.11 L672.12,680.42 L673.11,679.70 L674.10,678.95 L675.09,678.18 L676.08,677.39 L677.07,676.58 L678.06,675.75 L679.05,674.90 L680.04,674.04 L681.03,673.17 L682.02,672.29 L683.01,671.39 L684.00,670.48 L684.99,669.57 L685.98,668.65 L686.97,667.72 L687.96,666.79 L688.95,665.85 L689.94,664.91 L690.93,663.96 L691.92,663.01 L692.91,662.06 L693.90,661.11 L694.89,660.15 L695.88,659.20 L696.87,658.24 L697.86,657.28 L698.85,656.32 L699.84,655.36 L700.83,654.40 L701.82,653.44 L702.81,652.47 L703.80,651.51 L704.79,650.55 L705.78,649.59 L706.77,648.62 L707.76,647.66 L708.75,646.70 L709.74,645.73 L710.73,644.77 L711.72,643.80 L712.71,642.84 L713.70,641.88 L714.69,640.91 L715.68,639.95 L716.67,638.99 L717.66,638.02 L718.65,637.06 L719.64,636.09 L720.63,635.13 L721.62,634.17 L722.61,633.20 L723.60,632.24 L724.59,631.27 L725.58,630.31 L726.57,629.35 L727.56,628.38 L728.55,627.42 L729.54,626.46 L730.53,625.49 L731.52,624.53 L732.51,623.56 L733.50,622.60 L734.49,621.64 L735.48,620.67 L736.47,619.71 L737.46,618.74 L738.45,617.78 L739.44,616.82 L740.43,615.85 L741.42,614.89 L742.41,613.93 L743.40,612.96 L744.39,612.00 L745.38,611.03 L746.37,610.07 L747.36,609.11 L748.35,608.14 L749.34,607.18 L750.33,606.21 L751.32,605.25 L752.31,604.29 L753.30,603.32 L754.29,602.36 L755.28,601.40 L756.27,600.44 L757.26,599.47 L758.25,598.51 L759.24,597.55 L760.23,596.59 L761.22,595.63 L762.21,594.67 L763.20,593.71 L764.19,592.75 L765.18,591.80 L766.17,590.84 L767.16,589.89 L768.15,588.94 L769.14,587.99 L770.13,587.05 L771.12,586.11 L772.11,585.17 L773.10,584.24 L774.09,583.32 L775.08,582.40 L776.07,581.49 L777.06,580.59 L778.05,579.70 L779.04,578.82 L780.03,577.96 L781.02,577.10 L782.01,576.27 L783.00,575.45 L783.99,574.65 L784.98,573.87 L785.97,573.11 L786.96,572.38 L787.95,571.67 L788.94,570.99 L789.93,570.35 L790.92,569.74 L791.91,569.16 L792.90,568.62 L793.89,568.12 L794.88,567.65 L795.87,567.24 L796.86,566.86 L797.85,566.53 L798.84,566.25 L799.83,566.02 L800.82,565.84 L801.81,565.71 L802.80,565.62 L803.79,565.59 L804.78,565.61 L805.77,565.69 L806.76,565.81 L807.75,565.98 L808.74,566.21 L809.73,566.48 L810.72,566.80 L811.71,567.16 L812.70,567.57 L813.69,568.02 L814.68,568.52 L815.67,569.05 L816.66,569.62 L817.65,570.23 L818.64,570.87 L819.63,571.54 L820.62,572.24 L821.61,572.97 L822.60,573.72 L823.59,574.49 L824.58,575.29 L825.57,576.11 L826.56,576.94 L827.55,577.79 L828.54,578.66 L829.53,579.53 L830.52,580.42 L831.51,581.32 L832.50,582.23 L833.49,583.14 L834.48,584.07 L835.47,585.00 L836.46,585.93 L837.45,586.87 L838.44,587.81 L839.43,588.76 L840.42,589.71 L841.41,590.66 L842.40,591.61 L843.39,592.57 L844.38,593.53 L845.37,594.49 L846.36,595.44 L847.35,596.41 L848.34,597.37 L849.33,598.33 L850.32,599.29 L851.31,600.25 L852.30,601.21 L853.29,602.18 L854.28,603.14 L855.27,604.10 L856.26,605.07 L857.25,606.03 L858.24,606.99 L859.23,607.96 L860.22,608.92 L861.21,609.89 L862.20,610.85 L863.19,611.81 L864.18,612.78 L865.17,613.74 L866.16,614.71 L867.15,615.67 L868.14,616.63 L869.13,617.60 L870.12,618.56 L871.11,619.52 L872.10,620.49 L873.09,621.45 L874.08,622.42 L875.07,623.38 L876.06,624.34 L877.05,625.31 L878.04,626.27 L879.03,627.24 L880.02,628.20 L881.01,629.16 L882.00,630.13 L882.99,631.09 L883.98,632.05 L884.97,633.02 L885.96,633.98 L886.95,634.95 L887.94,635.91 L888.93,636.87 L889.92,637.84 L890.91,638.80 L891.90,639.77 L892.89,640.73 L893.88,641.69 L894.87,642.66 L895.86,643.62 L896.85,644.58 L897.84,645.55 L898.83,646.51 L899.82,647.48 L900.81,648.44 L901.80,649.40 L902.79,650.37 L903.78,651.33 L904.77,652.29 L905.76,653.25 L906.75,654.22 L907.74,655.18 L908.73,656.14 L909.72,657.10 L910.71,658.06 L911.70,659.02 L912.69,659.97 L913.68,660.93 L914.67,661.88 L915.66,662.83 L916.65,663.78 L917.64,664.73 L918.63,665.67 L919.62,666.61 L920.61,667.54 L921.60,668.47 L922.59,669.39 L923.58,670.31 L924.57,671.22 L925.56,672.11 L926.55,673.00 L927.54,673.88 L928.53,674.74 L929.52,675.59 L930.51,676.42 L931.50,677.24 L932.49,678.03 L933.48,678.80 L934.47,679.55 L935.46,680.28 L936.45,680.98 L937.44,681.64 L938.43,682.28 L939.42,682.88 L940.41,683.45 L941.40,683.98 L942.39,684.47 L943.38,684.92 L944.37,685.33 L945.36,685.69 L946.35,686.00 L947.34,686.27 L948.33,686.49 L949.32,686.65 L950.31,686.77 L951.30,686.84 L952.29,686.86 L953.28,686.82 L954.27,686.73 L955.26,686.59 L956.25,686.41 L957.24,686.17 L958.23,685.89 L959.22,685.55 L960.21,685.18 L961.20,684.75 L962.19,684.29 L963.18,683.78 L964.17,683.24 L965.16,682.66 L966.15,682.04 L967.14,681.39 L968.13,680.71 L969.12,680.00 L970.11,679.27 L971.10,678.51 L972.09,677.73 L973.08,676.92 L974.07,676.10 L975.06,675.26 L976.05,674.41 L977.04,673.54 L978.03,672.66 L979.02,671.77 L980.01,670.87 L981.00,669.96 L981.99,669.04 L982.98,668.11 L983.97,667.18 L984.96,666.25 L985.95,665.31 L986.94,664.36 L987.93,663.42 L988.92,662.47 L989.91,661.51 L990.90,660.56 L991.89,659.60 L992.88,658.65 L993.87,657.69 L994.86,656.73 L995.85,655.77 L996.84,654.81 L997.83,653.84 L998.82,652.88 L999.81,651.92 L1000.80,650.96 L1001.79,649.99 L1002.78,649.03 L1003.77,648.07 L1004.76,647.10 L1005.75,646.14 L1006.74,645.18 L1007.73,644.21 L1008.72,643.25 L1009.71,642.29 L1010.70,641.32 L1011.69,640.36 L1012.68,639.39 L1013.67,638.43 L1014.66,637.47 L1015.65,636.50 L1016.64,635.54 L1017.63,634.57 L1018.62,633.61 L1019.61,632.65 L1020.60,631.68 L1021.59,630.72 L1022.58,629.76 L1023.57,628.79 L1024.56,627.83 L1025.55,626.86 L1026.54,625.90 L1027.53,624.94 L1028.52,623.97 L1029.51,623.01 L1030.50,622.04 L1031.49,621.08 L1032.48,620.12 L1033.47,619.15 L1034.46,618.19 L1035.45,617.23 L1036.44,616.26 L1037.43,615.30 L1038.42,614.33 L1039.41,613.37 L1040.40,612.41 L1041.39,611.44 L1042.38,610.48 L1043.37,609.51 L1044.36,608.55 L1045.35,607.59 L1046.34,606.62 L1047.33,605.66 L1048.32,604.70 L1049.31,603.73 L1050.30,602.77 L1051.29,601.81 L1052.28,600.84 L1053.27,599.88 L1054.26,598.92 L1055.25,597.96 L1056.24,597.00 L1057.23,596.04 L1058.22,595.08 L1059.21,594.12 L1060.20,593.16 L1061.19,592.20 L1062.18,591.25 L1063.17,590.29 L1064.16,589.34 L1065.15,588.39 L1066.14,587.45 L1067.13,586.51 L1068.12,585.57 L1069.11,584.64 L1070.10,583.71 L1071.09,582.79 L1072.08,581.88 L1073.07,580.97 L1074.06,580.08 L1075.05,579.19 L1076.04,578.32 L1077.03,577.46 L1078.02,576.62 L1079.01,575.79 L1080.00,574.98 L1080.99,574.19 L1081.98,573.43 L1082.97,572.68 L1083.96,571.97 L1084.95,571.28 L1085.94,570.62 L1086.93,569.99 L1087.92,569.40 L1088.91,568.84 L1089.90,568.32 L1090.89,567.84 L1091.88,567.41 L1092.87,567.02 L1093.86,566.67 L1094.85,566.37 L1095.84,566.11 L1096.83,565.91 L1097.82,565.76 L1098.81,565.65 L1099.80,565.60 L1100.79,565.60 L1101.78,565.65 L1102.77,565.75 L1103.76,565.90 L1104.75,566.11 L1105.74,566.36 L1106.73,566.65 L1107.72,567.00 L1108.71,567.39 L1109.70,567.83 L1110.69,568.30 L1111.68,568.82 L1112.67,569.38 L1113.66,569.97 L1114.65,570.59 L1115.64,571.25 L1116.63,571.94 L1117.62,572.65 L1118.61,573.40 L1119.60,574.16 L1120.59,574.95 L1121.58,575.76 L1122.57,576.59 L1123.56,577.43 L1124.55,578.29 L1125.54,579.16 L1126.53,580.04 L1127.52,580.94 L1128.51,581.84 L1129.50,582.76 L1130.49,583.68 L1131.48,584.60 L1132.47,585.53 L1133.46,586.47 L1134.45,587.41 L1135.44,588.36 L1136.43,589.31 L1137.42,590.26 L1138.41,591.21 L1139.40,592.16 L1140.39,593.12 L1141.38,594.08 L1142.37,595.04 L1143.36,596.00 L1144.35,596.96 L1145.34,597.92 L1146.33,598.88 L1147.32,599.84 L1148.31,600.81 L1149.30,601.77 L1150.29,602.73 L1151.28,603.70 L1152.27,604.66 L1153.26,605.62 L1154.25,606.59 L1155.24,607.55 L1156.23,608.51 L1157.22,609.48 L1158.21,610.44 L1159.20,611.40 L1160.19,612.37 L1161.18,613.33 L1162.17,614.30 L1163.16,615.26 L1164.15,616.22 L1165.14,617.19 L1166.13,618.15 L1167.12,619.12 L1168.11,620.08 L1169.10,621.04 L1170.09,622.01 L1171.08,622.97 L1172.07,623.94 L1173.06,624.90 L1174.05,625.86 L1175.04,626.83 L1176.03,627.79 L1177.02,628.75 L1178.01,629.72 L1179.00,630.68 L1179.99,631.65 L1180.98,632.61 L1181.97,633.57 L1182.96,634.54 L1183.95,635.50 L1184.94,636.47 L1185.93,637.43 L1186.92,638.39 L1187.91,639.36 L1188.90,640.32 L1189.89,641.28 L1190.88,642.25 L1191.87,643.21 L1192.86,644.18 L1193.85,645.14 L1194.84,646.10 L1195.83,647.07 L1196.82,648.03 L1197.81,648.99 L1198.80,649.96 L1199.79,650.92 L1200.78,651.88 L1201.77,652.85 L1202.76,653.81 L1203.75,654.77 L1204.74,655.73 L1205.73,656.69 L1206.72,657.65 L1207.71,658.61 L1208.70,659.57 L1209.69,660.52 L1210.68,661.48 L1211.67,662.43 L1212.66,663.38 L1213.65,664.33 L1214.64,665.27 L1215.63,666.21 L1216.62,667.15 L1217.61,668.08 L1218.60,669.00 L1219.59,669.92 L1220.58,670.83 L1221.57,671.73 L1222.56,672.63 L1223.55,673.51 L1224.54,674.38 L1225.53,675.23 L1226.52,676.07 L1227.51,676.89 L1228.50,677.70 L1229.49,678.48 L1230.48,679.24 L1231.47,679.97 L1232.46,680.68 L1233.45,681.36 L1234.44,682.02 L1235.43,682.63 L1236.42,683.22 L1237.41,683.76 L1238.40,684.27 L1239.39,684.73 L1240.38,685.16 L1241.37,685.54 L1242.36,685.87 L1243.35,686.16 L1244.34,686.40 L1245.33,686.59 L1246.32,686.73 L1247.31,686.82 L1248.30,686.85 L1249.29,686.84 L1250.28,686.78 L1251.27,686.66 L1252.26,686.49 L1253.25,686.28 L1254.24,686.01 L1255.23,685.70 L1256.22,685.34 L1257.21,684.94 L1258.20,684.49 L1259.19,684.00 L1260.18,683.47 L1261.17,682.91 L1262.16,682.31 L1263.15,681.67 L1264.14,681.00 L1265.13,680.31 L1266.12,679.58 L1267.11,678.83 L1268.10,678.06 L1269.09,677.27 L1270.08,676.45 L1271.07,675.62 L1272.06,674.77 L1273.05,673.91 L1274.04,673.04 L1275.03,672.15 L1276.02,671.25 L1277.01,670.34 L1278.00,669.43 L1278.99,668.51 L1279.98,667.58 L1280.97,666.65 L1281.96,665.71 L1282.95,664.76 L1283.94,663.82 L1284.93,662.87 L1285.92,661.92 L1286.91,660.96 L1287.90,660.01 L1288.89,659.05 L1289.88,658.09 L1290.87,657.13 L1291.86,656.17 L1292.85,655.21 L1293.84,654.25 L1294.83,653.29 L1295.82,652.33 L1296.81,651.37 L1297.80,650.40 L1298.79,649.44 L1299.78,648.48 L1300.77,647.51 L1301.76,646.55 L1302.75,645.59 L1303.74,644.62 L1304.73,643.66 L1305.72,642.69 L1306.71,641.73 L1307.70,640.77 L1308.69,639.80 L1309.68,638.84 L1310.67,637.88 L1311.66,636.91 L1312.65,635.95 L1313.64,634.98 L1314.63,634.02 L1315.62,633.06 L1316.61,632.09 L1317.60,631.13 L1318.59,630.16 L1319.58,629.20 L1320.57,628.24 L1321.56,627.27 L1322.55,626.31 L1323.54,625.34 L1324.53,624.38 L1325.52,623.42 L1326.51,622.45 L1327.50,621.49 L1328.49,620.53 L1329.48,619.56 L1330.47,618.60 L1331.46,617.63 L1332.45,616.67 L1333.44,615.71 L1334.43,614.74 L1335.42,613.78 L1336.41,612.81 L1337.40,611.85 L1338.39,610.89 L1339.38,609.92 L1340.37,608.96 L1341.36,608.00 L1342.35,607.03 L1343.34,606.07 L1344.33,605.10 L1345.32,604.14 L1346.31,603.18 L1347.30,602.21 L1348.29,601.25 L1349.28,600.29 L1350.27,599.33 L1351.26,598.36 L1352.25,597.40 L1353.24,596.44 L1354.23,595.48 L1355.22,594.52 L1356.21,593.56 L1357.20,592.61 L1358.19,591.65 L1359.18,590.70 L1360.17,589.75 L1361.16,588.80 L1362.15,587.85 L1363.14,586.91 L1364.13,585.97 L1365.12,585.03 L1366.11,584.10 L1367.10,583.18 L1368.09,582.26 L1369.08,581.36 L1370.07,580.46 L1371.06,579.57 L1372.05,578.69 L1373.04,577.83 L1374.03,576.97 L1375.02,576.14 L1376.01,575.32 L1377.00,574.53 L1377.99,573.75 L1378.98,573.00 L1379.97,572.27 L1380.96,571.57 L1381.95,570.89 L1382.94,570.25 L1383.93,569.64 L1384.92,569.07 L1385.91,568.54 L1386.90,568.04 L1387.89,567.59 L1388.88,567.18 L1389.87,566.81 L1390.86,566.49 L1391.85,566.21 L1392.84,565.99 L1393.83,565.81 L1394.82,565.69 L1395.81,565.62 L1396.80,565.59 L1397.79,565.62 L1398.78,565.70 L1399.77,565.83 L1400.76,566.01 L1401.75,566.24 L1402.74,566.52 L1403.73,566.85 L1404.72,567.22 L1405.71,567.64 L1406.70,568.10 L1407.69,568.60 L1408.68,569.14 L1409.67,569.71 L1410.66,570.32 L1411.65,570.97 L1412.64,571.64 L1413.63,572.35 L1414.62,573.08 L1415.61,573.83 L1416.60,574.61 L1417.59,575.41 L1418.58,576.23 L1419.57,577.07 L1420.56,577.92 L1421.55,578.79 L1422.54,579.67 L1423.53,580.56 L1424.52,581.46 L1425.51,582.37 L1426.50,583.28 L1427.49,584.21 L1428.48,585.14 L1429.47,586.07 L1430.46,587.01 L1431.45,587.96 L1432.44,588.90 L1433.43,589.85 L1434.42,590.81 L1435.41,591.76 L1436.40,592.72 L1437.39,593.67 L1438.38,594.63 L1439.37,595.59 L1440.36,596.55 L1441.35,597.51 L1442.34,598.47 L1443.33,599.44 L1444.32,600.40 L1445.31,601.36 L1446.30,602.32 L1447.29,603.29 L1448.28,604.25 L1449.27,605.21 L1450.26,606.18 L1451.25,607.14 L1452.24,608.10 L1453.23,609.07 L1454.22,610.03 L1455.21,611.00 L1456.20,611.96 L1457.19,612.92 L1458.18,613.89 L1459.17,614.85 L1460.16,615.82 L1461.15,616.78 L1462.14,617.74 L1463.13,618.71 L1464.12,619.67 L1465.11,620.63 L1466.10,621.60 L1467.09,622.56 L1468.08,623.53 L1469.07,624.49 L1470.06,625.45 L1471.05,626.42 L1472.04,627.38 L1473.03,628.35 L1474.02,629.31 L1475.01,630.27 L1476.00,631.24 L1476.99,632.20 L1477.98,633.17 L1478.97,634.13 L1479.96,635.09 L1480.95,636.06 L1481.94,637.02 L1482.93,637.98 L1483.92,638.95 L1484.91,639.91 L1485.90,640.88 L1486.89,641.84 L1487.88,642.80 L1488.87,643.77 L1489.86,644.73 L1490.85,645.69 L1491.84,646.66 L1492.83,647.62 L1493.82,648.59 L1494.81,649.55 L1495.80,650.51 L1496.79,651.47 L1497.78,652.44 L1498.77,653.40 L1499.76,654.36 L1500.75,655.32 L1501.74,656.28 L1502.73,657.24 L1503.72,658.20 L1504.71,659.16 L1505.70,660.12 L1506.69,661.07 L1507.68,662.03 L1508.67,662.98 L1509.66,663.93 L1510.65,664.87 L1511.64,665.81 L1512.63,666.75 L1513.62,667.68 L1514.61,668.61 L1515.60,669.53 L1516.59,670.45 L1517.58,671.35 L1518.57,672.25 L1519.56,673.14 L1520.55,674.01 L1521.54,674.87 L1522.53,675.72 L1523.52,676.55 L1524.51,677.36 L1525.50,678.15 L1526.49,678.92 L1527.48,679.67 L1528.47,680.39 L1529.46,681.08 L1530.45,681.74 L1531.44,682.37 L1532.43,682.97 L1533.42,683.53 L1534.41,684.06 L1535.40,684.54 L1536.39,684.98 L1537.38,685.38 L1538.37,685.74 L1539.36,686.04 L1540.35,686.30 L1541.34,686.51 L1542.33,686.68 L1543.32,686.79 L1544.31,686.84 L1545.30,686.85 L1546.29,686.81 L1547.28,686.71 L1548.27,686.57 L1549.26,686.37 L1550.25,686.13 L1551.24,685.84 L1552.23,685.50 L1553.22,685.11 L1554.21,684.68 L1555.20,684.21 L1556.19,683.70 L1557.18,683.15 L1558.17,682.57 L1559.16,681.94 L1560.15,681.29 L1561.14,680.61 L1562.13,679.89 L1563.12,679.15 L1564.11,678.39 L1565.10,677.61 L1566.09,676.80 L1567.08,675.98 L1568.07,675.14 L1569.06,674.28 L1570.05,673.41 L1571.04,672.53 L1572.03,671.63 L1573.02,670.73 L1574.01,669.82 L1575.00,668.90 L1575.99,667.97 L1576.98,667.04 L1577.97,666.11 L1578.96,665.16 L1579.95,664.22 L1580.94,663.27 L1581.93,662.32 L1582.92,661.37 L1583.91,660.41 L1584.90,659.46 L1585.89,658.50 L1586.88,657.54 L1587.87,656.58 L1588.86,655.62 L1589.85,654.66 L1590.84,653.70 L1591.83,652.74 L1592.82,651.77 L1593.81,650.81 L1594.80,649.85 L1595.79,648.88 L1596.78,647.92 L1597.77,646.96 L1598.76,645.99 L1599.75,645.03 L1600.74,644.07 L1601.73,643.10 L1602.72,642.14 L1603.71,641.18 L1604.70,640.21 L1605.69,639.25 L1606.68,638.28 L1607.67,637.32 L1608.66,636.36 L1609.65,635.39 L1610.64,634.43 L1611.63,633.46 L1612.62,632.50 L1613.61,631.54 L1614.60,630.57 L1615.59,629.61 L1616.58,628.65 L1617.57,627.68 L1618.56,626.72 L1619.55,625.75 L1620.54,624.79 L1621.53,623.83 L1622.52,622.86 L1623.51,621.90 L1624.50,620.93 L1625.49,619.97 L1626.48,619.01 L1627.47,618.04 L1628.46,617.08 L1629.45,616.11 L1630.44,615.15 L1631.43,614.19 L1632.42,613.22 L1633.41,612.26 L1634.40,611.30 L1635.39,610.33 L1636.38,609.37 L1637.37,608.40 L1638.36,607.44 L1639.35,606.48 L1640.34,605.51 L1641.33,604.55 L1642.32,603.59 L1643.31,602.62 L1644.30,601.66 L1645.29,600.70 L1646.28,599.73 L1647.27,598.77 L1648.26,597.81 L1649.25,596.85 L1650.24,595.89 L1651.23,594.93 L1652.22,593.97 L1653.21,593.01 L1654.20,592.06 L1655.19,591.10 L1656.18,590.15 L1657.17,589.20 L1658.16,588.25 L1659.15,587.31 L1660.14,586.36 L1661.13,585.43 L1662.12,584.50 L1663.11,583.57 L1664.10,582.65 L1665.09,581.74 L1666.08,580.84 L1667.07,579.94 L1668.06,579.06 L1669.05,578.19 L1670.04,577.33 L1671.03,576.49 L1672.02,575.67 L1673.01,574.86 L1674.00,574.08 L1674.99,573.31 L1675.98,572.57 L1676.97,571.86 L1677.96,571.17 L1678.95,570.52 L1679.94,569.90 L1680.93,569.31 L1681.92,568.76 L1682.91,568.25 L1683.90,567.78 L1684.89,567.35 L1685.88,566.96 L1686.87,566.62 L1687.86,566.32 L1688.85,566.08 L1689.84,565.88 L1690.83,565.74 L1691.82,565.64 L1692.81,565.60 L1693.80,565.60 L1694.79,565.66 L1695.78,565.77 L1696.77,565.93 L1697.76,566.14 L1698.75,566.40 L1699.74,566.70 L1700.73,567.06 L1701.72,567.45 L1702.71,567.90 L1703.70,568.38 L1704.69,568.90 L1705.68,569.46 L1706.67,570.06 L1707.66,570.69 L1708.65,571.35 L1709.64,572.05 L1710.63,572.77 L1711.62,573.51 L1712.61,574.28 L1713.60,575.07 L1714.59,575.88 L1715.58,576.71 L1716.57,577.56 L1717.56,578.42 L1718.55,579.29 L1719.54,580.18 L1720.53,581.07 L1721.52,581.98 L1722.51,582.89 L1723.50,583.82 L1724.49,584.74 L1725.48,585.68 L1726.47,586.61 L1727.46,587.56 L1728.45,588.50 L1729.44,589.45 L1730.43,590.40 L1731.42,591.35 L1732.41,592.31 L1733.40,593.27 L1734.39,594.22 L1735.38,595.18 L1736.37,596.14 L1737.36,597.10 L1738.35,598.07 L1739.34,599.03 L1740.33,599.99 L1741.32,600.95 L1742.31,601.92 L1743.30,602.88 L1744.29,603.84 L1745.28,604.81 L1746.27,605.77 L1747.26,606.73 L1748.25,607.70 L1749.24,608.66 L1750.23,609.62 L1751.22,610.59 L1752.21,611.55 L1753.20,612.52 L1754.19,613.48 L1755.18,614.44 L1756.17,615.41 L1757.16,616.37 L1758.15,617.33 L1759.14,618.30 L1760.13,619.26 L1761.12,620.23 L1762.11,621.19 L1763.10,622.15 L1764.09,623.12 L1765.08,624.08 L1766.07,625.05 L1767.06,626.01 L1768.05,626.97 L1769.04,627.94 L1770.03,628.90 L1771.02,629.86 L1772.01,630.83 L1773.00,631.79 L1773.99,632.76 L1774.98,633.72 L1775.97,634.68 L1776.96,635.65 L1777.95,636.61 L1778.94,637.58 L1779.93,638.54 L1780.92,639.50 L1781.91,640.47 L1782.90,641.43 L1783.89,642.39 L1784.88,643.36 L1785.87,644.32 L1786.86,645.29 L1787.85,646.25 L1788.84,647.21 L1789.83,648.18 L1790.82,649.14 L1791.81,650.10 L1792.80,651.07 L1793.79,652.03 L1794.78,652.99 L1795.77,653.95 L1796.76,654.92 L1797.75,655.88 L1798.74,656.84 L1799.73,657.80 L1800.72,658.75 L1801.71,659.71 L1802.70,660.67 L1803.69,661.62 L1804.68,662.57 L1805.67,663.52 L1806.66,664.47 L1807.65,665.41 L1808.64,666.35 L1809.63,667.29 L1810.62,668.22 L1811.61,669.14 L1812.60,670.06 L1813.59,670.97 L1814.58,671.87 L1815.57,672.76 L1816.56,673.64 L1817.55,674.51 L1818.54,675.36 L1819.53,676.20 L1820.52,677.02 L1821.51,677.82 L1822.50,678.60" stroke="#f0f"/>
</g>
<g stroke-width="7.3" stroke-linecap="round">
<line x1="880.9" y1="89.5" x2="1019.9" y2="89.5" stroke="#000"/>
<line x1="1346.3999999999999" y1="89.5" x2="1485.3999999999999" y2="89.5" stroke="#f00"/>
<line x1="880.9" y1="167" x2="1019.9" y2="167" stroke="#00f"/>
</g>
<g font-size="63">
<text x="1036.3572" y="110.6"><tspan font-style="italic">n</tspan>=800 rpm</text>
<text x="1501.7572" y="110.6"><tspan font-style="italic">n</tspan>=1000 rpm</text>
<text x="1036.3572" y="187.7"><tspan font-style="italic">n</tspan>=2000 rpm</text>
<text x="1501.7572" y="187.7"><tspan font-style="italic">n</tspan>=4000 rpm</text>
</g>
<line x1="1346.3999999999999" y1="167" x2="1485.3999999999999" y2="167" stroke="#f0f" stroke-width="7.3" stroke-linecap="round"/>
<g>
<text transform="translate(893.76,1384.34) scale(0.9459,1.1374)" font-size="68" font-weight="bold">t</text>
<text transform="translate(916.52,1384.00) scale(0.9206,1.0004)" font-size="68" font-weight="bold">i</text>
<text transform="translate(936.23,1384.00) scale(0.9169,0.9987)" font-size="68" font-weight="bold">m</text>
<text transform="translate(992.55,1384.36) scale(0.9694,1.0121)" font-size="68" font-weight="bold">e</text>
<text transform="translate(1038.61,1384.24) scale(1.0994,1.0055)" font-size="68" font-weight="bold">(</text>
<text transform="translate(1063.33,1384.00) scale(0.9151,0.9987)" font-size="68" font-weight="bold">m</text>
<text transform="translate(1119.98,1384.33) scale(0.9321,1.0090)" font-size="68" font-weight="bold">s</text>
<text transform="translate(1143.63,1384.24) scale(1.0822,1.0055)" font-size="68" font-weight="bold">)</text>
</g>
<g>
<text transform="translate(75.22,803.81) rotate(-90) scale(0.9685,1.0311)" font-size="68" font-weight="bold" font-style="italic">v</text>
<text transform="translate(99.36,771.41) rotate(-90) scale(0.9796,1.0126)" font-size="41" font-weight="bold">p</text>
<text transform="translate(75.40,739.17) rotate(-90) scale(1.0936,1.0088)" font-size="68" font-weight="bold">(</text>
<text transform="translate(75.10,714.66) rotate(-90) scale(0.9095,1.0018)" font-size="68" font-weight="bold">m</text>
<text transform="translate(73.03,658.44) rotate(-90) scale(0.6259,0.6441)" font-size="68" font-weight="bold">·</text>
<text transform="translate(75.42,641.81) rotate(-90) scale(0.9277,1.0182)" font-size="68" font-weight="bold">s</text>
<text transform="translate(44.21,617.35) rotate(-90) scale(1.0724,1.1490)" font-size="42" font-weight="bold">-</text>
<text transform="translate(42.10,603.17) rotate(-90) scale(0.9119,1.0207)" font-size="42" font-weight="bold">1</text>
<text transform="translate(75.37,583.16) rotate(-90) scale(1.0764,1.0039)" font-size="68" font-weight="bold">)</text>
</g>
</svg>
</body></html>
